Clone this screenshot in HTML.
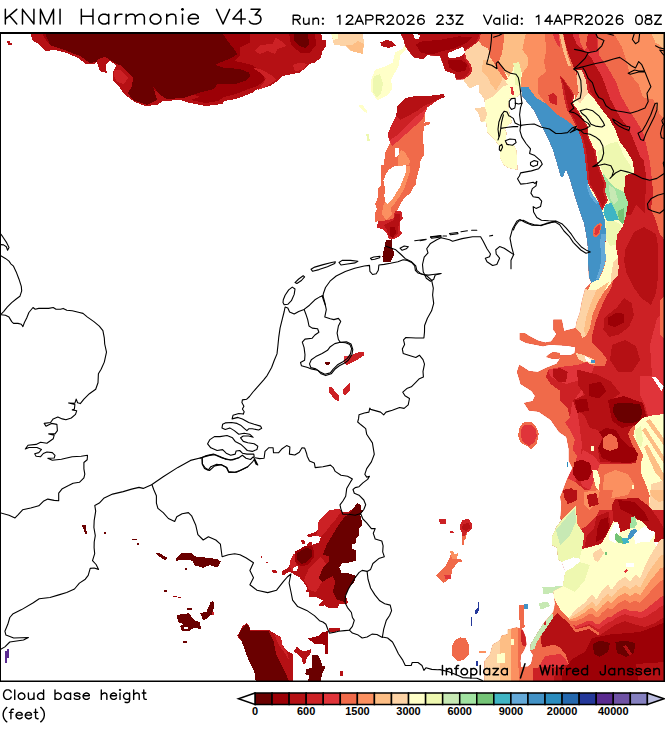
<!DOCTYPE html>
<html><head><meta charset="utf-8"><title>KNMI Harmonie V43 - Cloud base height</title>
<style>
html,body{margin:0;padding:0;background:#fff;}
svg{display:block;font-family:"Liberation Sans",sans-serif;}
.t1{font-size:21.5px;fill:#000;}
.t2{font-size:15.2px;fill:#000;}
.t3{font-size:15px;fill:#000;}
.cb{font-size:10px;font-weight:bold;fill:#000;}
.c{fill:none;stroke:#000;stroke-width:1.1;stroke-linejoin:round;stroke-linecap:round;}
</style></head><body>
<svg width="665" height="735" viewBox="0 0 665 735">
<rect x="0" y="0" width="665" height="735" fill="#fff"/>
<defs><clipPath id="mc"><rect x="1" y="33" width="664" height="648"/></clipPath></defs>
<g clip-path="url(#mc)" shape-rendering="crispEdges">
<polygon fill="#b51014" points="30.0,33.0 33.0,41.0 39.0,44.0 45.0,51.0 55.0,50.0 67.0,53.0 78.0,58.0 86.0,64.0 95.0,64.0 98.0,60.0 105.0,57.0 112.0,62.0 116.0,66.0 113.0,72.0 113.0,80.0 120.0,88.0 125.0,95.0 135.0,102.0 145.0,106.0 157.0,105.0 163.0,101.0 180.0,100.0 190.0,103.0 206.0,106.0 222.5,104.0 224.0,101.0 236.0,99.0 244.0,96.0 252.5,92.5 255.0,90.0 270.0,86.0 277.5,81.0 282.5,76.0 300.0,72.5 306.0,67.5 309.0,64.0 315.0,62.5 321.0,57.5 322.5,51.0 326.0,46.0 326.0,40.0 322.5,39.5 321.0,33.0"/>
<polygon fill="#b51014" points="36.0,33.0 38.0,40.0 44.0,43.0 50.0,48.0 60.0,49.0 70.0,52.0 80.0,57.0 90.0,63.0 98.0,59.0 106.0,58.0 113.0,63.0 118.0,68.0 116.0,76.0 122.0,88.0 128.0,95.0 137.0,101.0 146.0,105.0 156.0,103.0 162.0,100.0 180.0,99.0 192.0,102.0 206.0,104.5 221.0,102.5 223.0,99.5 235.0,97.5 243.0,94.5 251.0,91.0 254.0,88.5 269.0,84.5 276.0,79.5 281.0,74.5 292.0,72.0 299.0,70.5 304.0,66.0 308.0,62.5 314.0,61.0 319.5,56.5 321.0,50.0 324.5,45.0 324.0,41.0 321.0,40.0 319.0,33.0"/>
<polygon fill="#9c0006" points="42.0,33.0 47.0,42.0 52.0,46.0 66.0,50.0 79.0,55.0 90.0,62.0 99.0,60.0 107.0,57.0 116.0,62.0 124.0,66.0 134.0,76.0 133.0,86.0 129.0,92.0 134.0,99.0 147.0,104.0 156.0,100.0 152.0,88.0 160.0,94.0 167.0,98.0 183.0,97.0 193.0,94.0 200.0,97.0 190.0,100.0 206.0,103.0 218.0,101.0 224.0,97.0 236.0,94.0 246.0,90.0 257.5,86.0 265.0,80.0 262.5,72.5 252.5,65.0 235.0,61.0 240.0,55.0 240.0,47.5 250.0,42.5 250.0,33.0"/>
<polygon fill="#6a0000" points="45.0,33.0 50.0,45.0 67.0,51.0 80.0,56.0 90.0,63.0 100.0,61.0 107.0,58.0 115.0,63.0 122.0,66.0 133.0,78.0 132.0,86.0 128.0,93.0 133.0,100.0 147.0,105.0 157.0,100.0 153.0,86.0 160.0,95.0 167.0,99.0 183.0,98.0 193.0,95.0 200.0,92.5 214.0,89.0 217.5,84.0 235.0,84.0 245.0,81.0 250.0,76.0 249.0,72.5 240.0,69.0 222.5,67.5 215.0,65.0 220.0,62.5 232.5,57.5 237.5,54.0 234.0,49.0 227.5,41.0 222.5,33.0"/>
<polygon fill="#b51014" points="113.0,63.0 122.0,66.0 133.0,78.0 131.0,86.0 126.0,92.0 120.0,88.0 113.0,80.0 113.0,72.0 116.0,66.0"/>
<polygon fill="#cc2125" points="114.0,70.0 120.0,70.0 128.0,78.0 124.0,84.0 117.0,82.0 114.0,76.0"/>
<polygon fill="#cc2125" points="255.0,51.0 260.0,45.0 272.5,44.0 276.0,37.5 281.0,41.0 286.0,46.0 277.5,49.0 275.0,54.0 267.5,51.0 260.0,54.0"/>
<polygon fill="#cc2125" points="252.5,67.5 262.5,70.0 272.5,76.0 276.0,80.0 270.0,84.0 265.0,87.5 258.0,90.0 264.0,82.0 266.0,78.0 259.0,72.0"/>
<polygon fill="#cc2125" points="292.5,65.0 300.0,62.5 307.5,64.0 302.5,70.0 295.0,71.0"/>
<polygon fill="#9c0006" points="289.0,33.0 315.0,33.0 316.0,45.0 310.0,52.5 300.0,52.5 291.0,45.0"/>
<polygon fill="#6a0000" points="294.0,33.0 307.5,33.0 309.5,44.0 305.0,48.0 299.0,46.0 294.0,40.0"/>
<polygon fill="#b51014" points="7.0,41.0 10.0,41.0 10.0,43.0 12.0,43.0 12.0,45.0 8.0,45.0 8.0,43.0 7.0,43.0"/>
<polygon fill="#fdd3a5" points="331.0,33.0 334.0,45.0 345.0,46.0 351.0,51.0 362.5,54.0 364.0,45.0 363.0,33.0"/>
<polygon fill="#fdbe85" points="345.0,45.0 351.0,51.0 362.5,54.0 364.0,44.0 357.5,41.0 352.5,45.0"/>
<polygon fill="#ffffc8" points="331.0,33.0 338.0,33.0 337.5,39.0 333.0,40.0"/>
<polygon fill="#b51014" points="380.5,42.5 386.0,40.0 391.0,41.0 396.0,45.5 389.0,48.0 381.0,46.0"/>
<polygon fill="#ffffc8" points="406.0,42.5 402.5,49.0 395.0,52.5 392.5,62.5 386.0,66.0 375.0,70.0 371.0,80.0 371.0,91.0 377.5,100.5 387.5,95.0 392.5,89.0 391.0,80.0 395.0,72.5 399.0,65.0 400.0,55.0 406.0,49.0"/>
<polygon fill="#eef8b0" points="374.0,76.0 380.0,74.0 383.0,84.0 381.0,93.0 377.0,98.0 372.5,91.0 372.5,81.0"/>
<polygon fill="#ffffc8" points="359.0,104.5 362.0,104.5 367.0,111.0 367.0,113.0 364.0,112.0 359.0,107.0"/>
<polygon fill="#eef8b0" points="366.0,134.0 368.5,134.0 370.0,141.0 367.5,141.0"/>
<polygon fill="#f06a4a" points="444.0,94.0 445.0,97.0 437.5,100.0 432.5,104.0 427.5,107.5 425.0,112.5 424.5,122.5 430.0,122.0 430.0,124.0 424.0,126.0 422.5,140.0 424.5,147.5 424.0,150.0 423.6,155.4 420.4,160.8 419.5,168.0 416.8,177.0 415.9,184.3 412.3,188.8 410.5,193.3 404.2,197.8 400.5,204.0 397.0,210.5 401.4,211.4 402.9,218.6 399.6,221.3 399.6,229.4 402.3,233.0 398.7,236.6 393.3,239.3 388.8,238.4 387.0,233.0 382.5,229.4 377.0,227.6 378.0,221.3 375.3,222.2 375.3,212.3 377.0,209.6 375.3,204.0 378.0,197.0 378.0,188.8 380.5,186.0 380.7,173.5 380.7,164.4 384.0,165.0 385.0,152.5 390.0,142.5 387.5,135.0 391.0,126.0 396.0,116.0 397.5,106.0 405.0,98.0 417.5,95.5 427.5,96.0"/>
<polygon fill="#fff" points="395.0,147.5 399.0,147.5 399.0,155.0 395.0,157.5"/>
<polygon fill="#fb9060" points="398.0,157.0 401.0,150.0 405.0,152.0 410.0,161.0 409.0,165.0 406.0,165.3 398.0,166.0"/>
<polygon fill="#fb9060" points="400.0,166.0 409.5,166.0 409.5,173.0 407.0,181.0 404.0,189.0 400.0,196.0 395.0,203.0 391.0,208.0 392.0,215.0 386.0,220.0 382.0,214.0 383.0,206.0 386.0,200.0 392.0,190.0 398.0,178.0"/>
<polygon fill="#fff" points="388.8,169.9 394.2,166.2 406.0,165.3 406.0,171.7 403.2,178.9 400.5,186.0 396.0,193.3 392.4,198.7 388.0,204.0 385.2,202.3 384.3,195.0 385.2,188.8 383.4,180.7 386.0,173.5"/>
<polygon fill="#e0343a" points="397.5,106.0 405.0,98.0 417.5,95.5 427.5,96.0 444.0,94.0 445.0,97.0 437.5,100.0 432.5,104.0 427.5,107.5 425.0,112.5 423.0,118.0 415.0,126.0 406.0,134.0 397.0,142.0 392.0,146.0 390.0,142.5 387.5,135.0 391.0,126.0 396.0,116.0"/>
<polygon fill="#cc2125" points="397.5,106.0 405.0,98.0 417.5,95.5 427.5,96.0 444.0,94.0 445.0,97.0 437.5,100.0 432.5,104.0 427.0,107.0 421.0,113.0 412.0,120.0 404.0,128.0 396.0,136.0 390.0,140.0 387.5,135.0 391.0,126.0 396.0,116.0"/>
<polygon fill="#b51014" points="397.5,106.0 405.0,98.0 417.5,95.5 427.5,96.0 444.0,94.0 445.0,97.0 437.5,100.0 431.0,103.0 424.0,106.0 417.0,111.0 408.0,116.0 400.0,120.0 396.0,116.0"/>
<polygon fill="#cc2125" points="395.0,211.4 401.4,211.4 402.9,218.6 399.6,221.3 399.6,229.4 402.3,233.0 398.7,236.6 393.3,239.3 388.8,238.4 387.0,233.0 382.5,229.4 377.0,227.6 378.0,221.3 386.0,220.4 393.3,218.6"/>
<polygon fill="#b51014" points="395.0,214.0 400.0,214.0 400.0,220.0 398.0,228.0 398.0,234.0 393.0,238.0 389.0,236.0 387.0,230.0 384.0,225.0 390.0,222.0 394.0,220.0"/>
<polygon fill="#9c0006" points="389.5,227.0 395.0,227.0 396.0,233.0 393.0,238.0 390.0,236.0"/>
<polygon fill="#6a0000" points="386.0,240.3 392.4,239.3 392.4,247.5 394.2,253.8 392.4,258.3 390.6,262.0 382.5,262.0 382.5,256.5 384.3,247.5"/>
<polygon fill="#b51014" points="357.0,503.3 361.0,504.7 361.0,509.6 363.8,509.6 360.3,515.4 362.3,522.3 361.9,526.2 359.0,528.0 359.0,535.0 356.0,538.0 356.0,542.8 352.0,544.7 352.0,548.7 356.0,550.6 356.4,560.4 351.0,562.3 342.3,563.3 339.4,567.2 341.4,573.0 348.2,573.0 356.0,576.0 354.0,582.9 349.2,587.7 345.3,595.6 348.2,602.4 345.3,604.4 339.4,604.4 337.4,608.3 328.7,608.3 324.7,605.3 319.9,606.3 318.9,604.4 322.8,600.5 316.9,597.5 309.0,596.5 309.0,592.6 306.2,591.7 307.0,587.7 303.2,581.9 299.3,577.0 293.5,574.0 289.6,571.7 286.6,573.0 282.7,576.0 281.7,571.0 286.6,569.0 289.6,565.3 289.6,561.4 293.5,554.5 298.3,551.6 304.2,549.6 307.0,544.7 309.0,541.8 312.0,541.8 312.0,544.7 318.9,542.8 320.8,536.9 316.0,536.0 308.0,536.9 307.0,535.0 315.0,532.0 317.9,530.0 317.9,522.3 322.8,516.4 328.7,510.5 338.4,508.6 343.3,512.5 349.2,511.5 354.0,507.6"/>
<polygon fill="#cc2125" points="317.9,530.0 317.9,522.3 322.8,516.4 328.7,510.5 338.4,508.6 341.0,512.0 336.0,519.0 330.0,526.0 324.0,534.0 320.8,536.9 316.0,536.0"/>
<polygon fill="#cc2125" points="309.0,568.0 320.8,556.5 328.7,568.0 322.0,582.0 316.0,592.0 309.0,590.0 307.0,585.0 304.0,580.0"/>
<polygon fill="#cc2125" points="289.6,565.3 289.6,561.4 293.5,554.5 298.3,551.6 297.0,560.0 296.0,566.0 292.0,572.0"/>
<polygon fill="#6a0000" points="348.2,514.4 360.3,515.4 362.3,522.3 361.9,526.2 359.0,528.0 359.0,535.0 356.0,538.0 356.0,542.8 352.0,544.7 352.0,548.7 356.0,550.6 356.4,560.4 351.0,562.3 342.3,563.3 339.4,567.2 341.4,573.0 348.2,573.0 356.0,576.0 354.0,582.9 349.2,587.7 345.3,595.6 345.3,602.4 336.5,599.5 332.6,591.7 335.5,581.9 332.6,576.0 328.7,578.0 322.8,581.9 318.9,578.0 322.8,568.2 328.7,562.3 328.7,556.5 322.8,554.5 326.7,544.7 332.6,535.0 338.4,525.2 344.3,517.4"/>
<polygon fill="#6a0000" points="354.0,507.6 357.0,503.3 361.0,504.7 361.0,509.6 363.8,509.6 360.3,515.4 348.2,514.4"/>
<polygon fill="#9c0006" points="294.5,552.0 305.0,546.0 312.0,546.2 314.5,552.0 313.5,558.0 308.0,564.5 301.0,566.5 295.0,562.0"/>
<polygon fill="#6a0000" points="297.0,553.0 306.0,548.0 311.0,549.0 312.5,553.0 311.5,557.0 306.5,562.3 301.0,564.0 297.0,560.0"/>
<polygon fill="#fff" points="293.5,568.2 297.4,565.3 298.3,568.2 296.4,571.0 293.0,571.0"/>
<polygon fill="#b51014" points="300.3,539.9 304.2,539.9 305.2,543.8 302.2,543.8"/>
<polygon fill="#b51014" points="272.0,569.8 274.0,569.8 276.8,571.0 276.8,572.0 272.0,571.5"/>
<polygon fill="#b51014" points="260.6,556.3 262.4,556.3 262.4,558.0 260.6,558.0"/>
<polygon fill="#b51014" points="266.0,561.6 267.7,561.6 267.7,563.4 266.0,563.4"/>
<polygon fill="#b51014" points="273.0,570.5 276.6,570.5 276.6,573.4 273.0,573.4"/>
<polygon fill="#b51014" points="246.6,623.2 249.2,625.8 250.4,629.6 268.3,629.6 274.7,633.5 281.0,637.3 282.4,645.0 287.5,651.3 292.6,653.9 293.4,681.0 255.6,681.0 254.3,671.8 249.2,661.6 245.3,651.3 241.5,641.0 237.2,636.0 241.5,628.3 242.8,625.8"/>
<polygon fill="#cc2125" points="274.0,634.0 281.0,637.3 282.4,645.0 287.0,651.3 289.0,660.0 284.0,652.0 279.0,645.0"/>
<polygon fill="#6a0000" points="246.6,624.2 249.2,626.8 250.4,630.6 268.3,631.0 273.5,641.0 276.0,654.0 281.0,664.0 285.0,671.8 288.8,681.0 255.6,681.0 254.3,671.8 249.2,661.6 245.3,651.3 241.5,641.0 238.2,636.0 241.5,629.3 243.8,626.8"/>
<polygon fill="#9c0006" points="308.0,638.6 318.2,636.0 322.0,632.2 328.4,631.0 328.4,653.9 325.0,653.9 325.0,645.0 319.5,643.7 314.4,643.7"/>
<polygon fill="#b51014" points="328.4,627.8 340.0,627.8 340.0,631.0 329.5,632.2"/>
<polygon fill="#b51014" points="297.0,646.2 300.3,650.0 304.1,651.3 309.2,650.0 311.3,648.8 311.3,652.6 306.7,657.7 305.4,664.0 302.9,664.0 301.6,657.7 297.0,653.9 293.9,651.3"/>
<polygon fill="#6a0000" points="311.8,655.2 318.2,655.2 320.7,660.3 322.0,665.4 325.9,666.7 322.0,674.4 320.7,681.0 308.0,681.0 309.2,675.6 305.4,674.4 305.9,669.2 311.8,668.0"/>
<polygon fill="#b51014" points="340.0,671.3 342.5,671.3 342.5,675.6 340.5,675.6"/>
<polygon fill="#6a0000" points="82.0,525.0 85.5,525.0 87.3,535.0 84.8,533.2"/>
<polygon fill="#6a0000" points="104.4,532.0 105.8,532.0 105.8,533.5 104.4,533.5"/>
<polygon fill="#6a0000" points="131.9,538.5 137.2,538.5 137.2,540.3 131.9,540.3"/>
<polygon fill="#6a0000" points="137.2,542.7 139.0,542.7 139.0,545.0 137.2,545.0"/>
<polygon fill="#6a0000" points="155.0,552.7 158.6,552.7 167.5,558.0 165.7,560.6 158.6,556.3"/>
<polygon fill="#6a0000" points="176.4,558.0 181.8,552.7 192.4,553.4 194.2,556.3 217.4,559.0 221.0,561.6 217.4,567.7 210.3,565.2 203.0,567.7 194.2,565.2 192.4,560.6 185.3,559.9 176.4,560.6"/>
<polygon fill="#6a0000" points="184.6,567.7 187.0,567.7 187.0,569.8 184.6,569.8"/>
<polygon fill="#6a0000" points="164.0,590.0 166.8,590.0 166.8,592.0 164.0,592.0"/>
<polygon fill="#9c0006" points="172.8,595.5 181.8,597.6 181.8,598.4 172.8,596.5"/>
<polygon fill="#6a0000" points="187.0,608.0 192.4,608.0 192.4,609.7 187.0,609.7"/>
<polygon fill="#6a0000" points="176.4,615.0 188.9,613.3 194.2,620.4 199.6,622.2 201.4,629.4 194.2,627.6 188.9,631.0 181.8,631.0 180.0,625.8 183.5,624.0 178.2,622.2"/>
<polygon fill="#fff" points="184.0,627.0 188.0,627.0 188.0,629.0 184.0,629.0"/>
<polygon fill="#6a0000" points="200.3,613.3 206.7,611.5 210.3,602.6 213.0,600.8 214.0,604.0 213.0,613.3 206.7,618.7 203.0,620.4"/>
<polygon fill="#cc2125" points="212.0,612.0 213.5,612.0 213.5,615.0 212.0,615.0"/>
<polygon fill="#6a0000" points="182.8,640.8 187.0,640.8 187.0,643.0 182.8,643.0"/>
<polygon fill="#5a2a90" points="5.3,650.8 7.0,650.8 7.0,649.2 8.6,649.2 8.6,657.6 7.0,657.6 7.0,662.5 5.3,662.5"/>
<polygon fill="#cc2125" points="343.6,356.5 352.0,354.9 358.6,352.2 363.6,352.2 363.6,355.5 357.0,359.9 350.3,363.2 346.9,365.6 343.6,361.6"/>
<polygon fill="#e0343a" points="343.6,356.5 349.0,355.5 349.0,359.0 346.0,362.0 343.6,361.6"/>
<polygon fill="#6a0000" points="325.2,361.6 330.2,361.6 330.2,363.3 327.7,365.6 325.2,364.3"/>
<polygon fill="#cc2125" points="328.5,386.6 330.9,386.6 338.6,395.0 338.6,401.0 335.2,400.0 328.5,391.6"/>
<polygon fill="#cc2125" points="343.6,388.3 349.6,383.3 350.3,390.0 345.2,395.0 342.9,394.3"/>
<polygon fill="#cc2125" points="439.0,519.5 446.2,519.0 446.2,524.4 440.0,524.4"/>
<polygon fill="#cc2125" points="449.8,531.6 453.0,531.0 455.2,533.4 449.8,533.4"/>
<polygon fill="#f06a4a" points="461.9,532.5 467.0,532.5 466.0,538.0 464.2,540.6 463.3,546.0 461.9,545.0"/>
<polygon fill="#cc2125" points="462.4,519.9 468.7,519.0 472.3,524.4 471.4,529.8 467.0,532.5 464.5,536.0 461.9,536.0 461.9,532.5 459.7,528.9 460.6,523.5"/>
<polygon fill="#b51014" points="463.0,524.0 469.0,523.0 470.5,528.0 466.0,531.0 462.0,529.0"/>
<polygon fill="#f06a4a" points="449.8,551.4 453.4,551.4 454.3,554.0 457.9,553.2 457.0,558.7 461.5,559.6 461.5,562.3 457.9,562.3 455.2,565.9 452.5,569.5 450.7,577.6 445.3,582.0 443.5,582.7 439.9,579.4 436.2,575.8 439.0,572.2 445.3,566.8 448.9,559.6 450.7,554.0"/>
<polygon fill="#fb9060" points="449.8,551.4 453.4,551.4 454.3,554.0 457.9,553.2 457.0,558.7 452.0,559.0 450.7,554.0"/>
<polygon fill="#e0343a" points="444.4,575.0 450.7,575.0 450.7,579.4 445.3,579.4"/>
<polygon fill="#24389a" points="474.5,610.0 477.5,608.5 478.3,601.8 479.3,601.8 479.0,610.0 476.8,613.8 474.5,614.5"/>
<polygon fill="#24389a" points="471.0,617.0 472.0,617.0 472.0,626.0 471.0,626.0"/>
<polygon fill="#f06a4a" points="519.3,605.5 523.8,604.7 524.6,627.0 519.5,629.5 519.5,620.0"/>
<polygon fill="#4292c6" points="523.5,604.0 528.0,604.0 528.0,608.6 524.5,608.6"/>
<polygon fill="#f06a4a" points="460.3,637.4 466.0,638.5 468.8,645.0 468.8,655.0 464.0,660.0 457.0,661.0 452.5,656.0 451.8,646.0 455.0,640.0"/>
<polygon fill="#fb9060" points="479.0,651.0 485.7,651.0 485.7,652.6 479.0,652.6"/>
<polygon fill="#2a8cbe" points="566.8,462.0 568.0,462.0 568.0,467.0 566.8,467.0"/>
<polygon fill="#f06a4a" points="523.0,422.6 531.0,422.0 536.0,426.0 538.7,434.0 537.0,443.0 533.0,447.0 531.0,450.0 527.0,446.0 521.0,443.0 518.0,436.0 519.5,428.0"/>
<polygon fill="#e0343a" points="524.0,425.0 531.0,424.5 535.5,429.0 537.0,436.0 534.0,443.0 529.0,446.0 523.0,442.0 520.5,436.0 521.5,429.0"/>
<polygon fill="#c7e9b4" points="539.0,603.0 548.0,601.5 549.7,606.0 544.0,608.5 540.0,609.0"/>
<polygon fill="#c7e9b4" points="542.3,587.4 562.7,586.0 564.0,591.0 549.5,593.5 543.5,593.5"/>
<polygon fill="#3fb5c4" points="512.0,630.6 514.4,630.6 514.4,633.3 512.0,633.3"/>
<polygon fill="#24389a" points="476.0,661.0 477.5,661.0 477.5,665.7 476.0,665.7"/>
<polygon fill="#b51014" points="96.7,61.0 100.0,71.3 106.7,73.0 106.0,64.0 110.0,60.0 105.0,57.0 98.0,59.0"/>
<defs><clipPath id="rb"><polygon points="400.0,33.0 665.0,33.0 665.0,681.0 484.3,681.0 484.3,661.0 489.5,655.0 492.6,644.6 500.0,640.0 501.6,635.6 507.6,634.0 507.6,629.6 516.6,627.3 522.6,629.6 525.6,637.0 526.4,644.6 524.0,650.6 521.0,655.0 520.4,661.0 521.0,667.0 528.0,666.5 531.0,664.0 533.0,655.0 530.0,650.0 530.5,644.0 534.0,638.0 539.0,630.0 543.0,624.0 548.0,618.0 553.3,612.0 555.0,603.5 553.0,591.0 562.7,586.0 565.0,571.8 561.5,562.0 558.0,559.8 556.7,547.7 552.0,545.3 552.0,535.7 556.7,526.0 561.5,520.0 560.3,519.0 561.5,504.4 560.3,497.0 564.0,487.5 567.6,478.0 572.4,468.0 568.8,461.0 568.8,449.0 566.4,437.0 559.0,432.0 550.7,420.0 538.7,411.7 529.0,410.5 524.0,403.0 532.7,401.0 535.0,396.0 531.5,391.0 520.6,384.0 517.0,372.0 519.4,364.8 529.0,371.0 537.6,372.0 546.0,368.0 556.6,363.7 560.0,358.4 553.0,359.0 546.0,357.0 548.0,355.0 553.0,352.0 560.0,353.0 560.0,355.3 570.3,355.3 574.5,353.0 575.5,347.3 567.0,345.8 550.0,344.7 543.0,346.3 526.3,343.0 519.7,339.7 519.7,333.0 524.7,333.0 529.7,336.3 537.6,340.5 545.0,342.6 551.0,341.6 556.6,334.0 553.4,330.0 553.4,319.5 561.8,319.5 564.0,331.0 575.5,328.0 576.6,321.6 579.7,313.0 582.0,300.5 585.0,289.0 591.3,282.6 589.0,277.4 588.0,263.7 588.0,251.0 587.0,240.5 584.0,223.7 578.7,209.0 573.4,192.0 569.0,177.0 566.0,170.0 563.0,177.0 560.8,177.4 556.6,162.6 552.8,150.0 548.3,139.4 544.7,132.2 539.3,121.4 533.9,110.5 528.4,104.0 522.0,96.0 521.2,89.8 519.4,95.2 515.8,98.0 509.5,98.8 508.6,105.0 509.5,112.3 512.2,122.3 508.6,125.0 505.0,129.5 506.8,132.2 505.9,141.2 508.6,144.8 514.0,144.8 516.7,150.0 517.6,166.5 517.6,170.0 508.6,168.3 503.2,164.7 499.6,157.5 499.6,146.6 494.0,139.4 487.0,132.2 486.0,122.3 480.6,121.4 478.8,114.0 474.3,108.7 478.8,107.8 485.0,107.0 484.2,98.8 478.8,91.6 478.8,85.0 476.0,85.3 469.8,88.9 464.4,81.7 463.0,79.5 455.8,79.5 454.7,74.2 445.0,71.0 443.0,64.7 440.0,56.3 427.4,55.3 423.0,59.5 413.7,57.4 408.4,51.0 405.0,45.8 403.0,38.4"/></clipPath></defs>
<g clip-path="url(#rb)">
<polygon fill="#cc2125" points="400.0,33.0 665.0,33.0 665.0,681.0 484.3,681.0 484.3,661.0 489.5,655.0 492.6,644.6 500.0,640.0 501.6,635.6 507.6,634.0 507.6,629.6 516.6,627.3 522.6,629.6 525.6,637.0 526.4,644.6 524.0,650.6 521.0,655.0 520.4,661.0 521.0,667.0 528.0,666.5 531.0,664.0 533.0,655.0 530.0,650.0 530.5,644.0 534.0,638.0 539.0,630.0 543.0,624.0 548.0,618.0 553.3,612.0 555.0,603.5 553.0,591.0 562.7,586.0 565.0,571.8 561.5,562.0 558.0,559.8 556.7,547.7 552.0,545.3 552.0,535.7 556.7,526.0 561.5,520.0 560.3,519.0 561.5,504.4 560.3,497.0 564.0,487.5 567.6,478.0 572.4,468.0 568.8,461.0 568.8,449.0 566.4,437.0 559.0,432.0 550.7,420.0 538.7,411.7 529.0,410.5 524.0,403.0 532.7,401.0 535.0,396.0 531.5,391.0 520.6,384.0 517.0,372.0 519.4,364.8 529.0,371.0 537.6,372.0 546.0,368.0 556.6,363.7 560.0,358.4 553.0,359.0 546.0,357.0 548.0,355.0 553.0,352.0 560.0,353.0 560.0,355.3 570.3,355.3 574.5,353.0 575.5,347.3 567.0,345.8 550.0,344.7 543.0,346.3 526.3,343.0 519.7,339.7 519.7,333.0 524.7,333.0 529.7,336.3 537.6,340.5 545.0,342.6 551.0,341.6 556.6,334.0 553.4,330.0 553.4,319.5 561.8,319.5 564.0,331.0 575.5,328.0 576.6,321.6 579.7,313.0 582.0,300.5 585.0,289.0 591.3,282.6 589.0,277.4 588.0,263.7 588.0,251.0 587.0,240.5 584.0,223.7 578.7,209.0 573.4,192.0 569.0,177.0 566.0,170.0 563.0,177.0 560.8,177.4 556.6,162.6 552.8,150.0 548.3,139.4 544.7,132.2 539.3,121.4 533.9,110.5 528.4,104.0 522.0,96.0 521.2,89.8 519.4,95.2 515.8,98.0 509.5,98.8 508.6,105.0 509.5,112.3 512.2,122.3 508.6,125.0 505.0,129.5 506.8,132.2 505.9,141.2 508.6,144.8 514.0,144.8 516.7,150.0 517.6,166.5 517.6,170.0 508.6,168.3 503.2,164.7 499.6,157.5 499.6,146.6 494.0,139.4 487.0,132.2 486.0,122.3 480.6,121.4 478.8,114.0 474.3,108.7 478.8,107.8 485.0,107.0 484.2,98.8 478.8,91.6 478.8,85.0 476.0,85.3 469.8,88.9 464.4,81.7 463.0,79.5 455.8,79.5 454.7,74.2 445.0,71.0 443.0,64.7 440.0,56.3 427.4,55.3 423.0,59.5 413.7,57.4 408.4,51.0 405.0,45.8 403.0,38.4"/>
<polygon fill="#f06a4a" points="500.0,240.0 617.6,250.0 615.5,271.0 611.3,288.0 605.0,298.4 599.7,311.0 595.5,321.6 592.4,334.0 592.4,342.6 600.8,351.0 607.0,359.5 605.0,366.0 594.0,366.0 586.8,362.0 577.0,365.0 560.3,367.0 548.3,369.6 546.0,377.0 550.7,384.0 560.3,391.0 560.3,401.0 567.6,408.0 570.0,417.7 565.0,422.6 570.0,430.0 574.8,439.4 572.4,449.0 577.0,456.0 574.8,466.0 570.0,473.0 565.0,485.0 562.7,494.7 562.7,510.0 577.0,504.0 577.0,514.0 560.0,520.0 500.0,520.0"/>
<polygon fill="#b51014" points="400.0,33.0 403.0,38.4 405.0,45.8 408.4,51.0 413.7,57.4 423.0,59.5 427.4,55.3 440.0,56.3 443.0,64.7 445.0,71.0 454.7,74.2 455.8,79.5 461.0,79.5 467.0,75.3 470.0,70.0 468.0,63.7 464.0,58.4 463.0,51.0 469.0,46.8 475.0,43.7 478.0,38.4 480.0,33.0"/>
<polygon fill="#9c0006" points="415.8,44.7 421.0,41.6 442.0,39.5 459.0,36.3 471.6,37.4 467.4,42.6 452.6,49.0 442.0,51.0 433.7,54.2 421.0,53.2"/>
<polygon fill="#9c0006" points="447.4,59.5 461.0,59.5 467.4,64.7 465.3,71.0 456.8,72.0 449.5,67.9"/>
<polygon fill="#fff" points="448.4,53.0 454.7,50.0 463.0,46.8 465.0,52.0 461.0,56.3 452.6,58.4 448.4,57.4"/>
<polygon fill="#fff" points="412.6,33.0 420.0,35.0 419.0,39.5 414.7,38.4"/>
<polygon fill="#ffffc8" points="521.2,89.8 519.4,95.2 515.8,98.0 509.5,98.8 508.6,105.0 509.5,112.3 512.2,122.3 508.6,125.0 505.0,129.5 506.8,132.2 505.9,141.2 508.6,144.8 514.0,144.8 516.7,150.0 517.6,166.5 517.6,170.0 508.6,168.3 503.2,164.7 499.6,157.5 499.6,146.6 494.0,139.4 487.0,132.2 486.0,122.3 480.6,121.4 478.8,114.0 474.3,108.7 478.8,107.8 485.0,107.0 484.2,98.8 478.8,91.6 478.8,85.0 476.0,85.3 469.8,88.9 464.4,81.7 463.0,79.5 469.5,75.3 472.6,70.0 470.5,63.7 466.0,58.4 465.0,51.0 471.6,46.8 479.0,40.8 481.0,38.4 484.0,33.0 526.0,33.0 524.2,40.8 522.3,49.9 527.8,57.0 527.8,66.0 522.3,73.3 520.5,82.3"/>
<polygon fill="#fdd3a5" points="463.0,79.5 469.5,75.3 472.6,70.0 470.5,63.7 466.0,58.4 465.0,51.0 471.6,46.8 479.0,40.8 482.6,46.2 488.0,48.0 489.9,57.0 493.5,62.5 499.0,71.5 505.2,80.5 508.0,85.0 503.0,86.0 497.0,92.0 492.0,97.0 486.0,100.0 484.2,98.8 478.8,91.6 478.8,85.0 476.0,85.3 469.8,88.9 464.4,81.7"/>
<polygon fill="#fdd3a5" points="474.3,108.7 478.8,107.8 485.0,107.0 487.0,114.0 485.0,121.0 480.6,121.4 478.8,114.0"/>
<polygon fill="#fdbe85" points="483.3,60.0 499.6,60.0 503.2,70.8 501.4,81.7 496.0,90.7 490.5,83.5 487.0,76.2 481.5,70.8"/>
<polygon fill="#fdbe85" points="504.3,33.0 526.0,33.0 524.2,40.8 522.3,49.9 527.8,57.0 527.8,66.0 522.3,73.3 518.7,66.0 514.2,64.3 512.4,71.5 508.8,77.0 504.3,71.5 499.0,60.7 501.6,55.0 503.4,44.4"/>
<polygon fill="#f06a4a" points="481.0,33.0 504.3,33.0 503.4,44.4 501.6,55.0 499.0,60.7 504.3,71.5 508.0,78.7 505.2,80.5 499.0,71.5 493.5,62.5 489.9,57.0 488.0,48.0 482.6,46.2 479.0,40.8"/>
<polygon fill="#eef8b0" points="513.3,63.4 519.0,62.0 521.0,70.0 520.5,82.3 519.0,86.0 515.5,85.0 514.5,75.0"/>
<polygon fill="#e0343a" points="510.4,87.0 513.0,87.0 514.0,95.2 511.8,95.2"/>
<polygon fill="#fb9060" points="526.0,33.0 563.0,33.0 565.0,42.6 568.0,53.0 572.4,63.7 576.0,70.0 578.0,90.0 580.0,110.0 585.0,140.0 581.8,139.5 577.6,129.0 567.0,120.5 556.6,114.2 546.0,103.7 535.5,97.4 528.4,87.0 521.2,89.8 520.5,82.3 522.3,73.3 527.8,66.0 527.8,57.0 522.3,49.9 524.2,40.8"/>
<polygon fill="#f06a4a" points="545.0,33.0 563.0,33.0 568.0,53.0 572.4,63.7 574.5,70.0 577.0,80.0 579.0,100.0 581.0,118.0 583.0,132.0 577.6,129.0 567.0,120.5 556.6,114.2 546.0,103.7 537.6,93.0 537.6,78.4 546.0,72.0 544.0,61.6 546.0,51.0"/>
<polygon fill="#e0343a" points="552.0,33.0 559.0,33.0 560.0,48.0 557.0,44.0"/>
<polygon fill="#fdbe85" points="559.0,33.0 562.5,33.0 567.0,53.0 571.0,66.0 568.0,66.0 563.0,50.0"/>
<polygon fill="#cc2125" points="548.3,95.2 553.0,93.0 557.3,97.0 557.3,105.0 550.0,103.0"/>
<polygon fill="#f06a4a" points="597.0,33.0 613.4,33.0 621.8,46.8 626.0,59.5 630.0,74.0 638.7,84.7 643.0,97.4 653.4,99.5 659.7,114.0 665.0,120.5 665.0,240.5 659.7,234.0 655.5,219.5 651.0,209.0 653.4,192.0 651.0,177.0 649.0,162.6 643.0,150.0 640.8,135.0 634.5,122.6 626.0,110.0 617.6,95.3 613.4,82.6 605.0,68.0 596.6,55.3"/>
<polygon fill="#fb9060" points="613.4,33.0 665.0,33.0 665.0,120.5 659.7,114.0 653.4,99.5 643.0,97.4 638.7,84.7 630.0,74.0 626.0,59.5 621.8,46.8"/>
<polygon fill="#fdbe85" points="651.0,33.0 665.0,33.0 665.0,51.0 659.7,44.7 655.5,42.6"/>
<polygon fill="#e0343a" points="570.0,33.0 597.0,33.0 599.0,55.3 608.0,68.0 616.4,82.6 620.6,95.3 629.0,110.0 637.5,122.6 644.0,135.0 650.0,162.0 652.0,180.0 640.0,180.0 636.6,156.0 630.0,139.5 624.0,126.8 617.6,118.4 612.4,110.0 607.0,99.5 603.0,89.0 598.7,76.3 592.4,65.8 588.0,57.4 581.8,51.0 574.5,44.7"/>
<polygon fill="#f06a4a" points="579.0,33.0 588.0,33.0 590.0,45.0 584.0,50.0 580.0,42.0"/>
<polygon fill="#cc2125" points="588.0,33.0 597.0,33.0 596.6,50.0 590.0,52.0 586.0,45.0"/>
<polygon fill="#ffffc8" points="577.6,68.0 581.8,70.0 586.0,80.5 588.0,93.0 594.5,99.5 603.0,111.0 609.0,118.4 615.5,130.0 619.7,141.6 626.0,150.0 632.4,160.5 634.5,173.0 625.6,175.0 624.0,192.0 628.0,202.6 626.0,215.0 623.0,225.8 617.6,234.0 615.5,244.7 617.6,255.0 617.6,262.0 615.5,271.0 611.3,283.0 604.0,292.0 596.6,290.0 588.0,290.0 591.3,282.6 598.7,279.5 603.0,271.0 606.0,260.5 605.0,250.0 606.0,234.0 605.0,221.6 603.0,213.0 598.7,202.6 592.4,194.0 588.0,183.7 586.0,166.8 584.0,150.0 581.8,139.5 577.6,129.0 572.4,118.4 567.0,110.0 564.0,97.4 561.8,84.7 559.7,75.3 563.0,78.4 569.2,86.8 574.5,95.3 575.5,99.5 578.7,93.0 576.6,78.4"/>
<polygon fill="#fdd3a5" points="577.6,68.0 576.6,78.4 578.7,93.0 575.5,99.5 579.7,103.7 588.0,93.0 586.0,80.5 581.8,70.0"/>
<polygon fill="#eef8b0" points="609.0,143.7 617.6,141.6 624.0,156.0 630.0,165.0 633.0,173.0 625.6,175.0 624.0,192.0 615.5,188.0 609.0,181.6 603.0,173.0 599.0,162.0 597.0,152.0"/>
<polygon fill="#eef8b0" points="606.0,222.0 613.4,220.5 619.7,223.7 621.8,228.0 617.6,234.0 615.5,244.7 610.0,246.0 606.0,238.0"/>
<polygon fill="#a1e3a1" points="603.0,173.0 609.0,181.6 615.5,188.0 624.0,192.0 628.0,202.6 626.0,215.0 623.0,224.7 617.6,219.5 614.5,209.0 609.0,200.5 606.0,194.0 604.0,188.0"/>
<polygon fill="#c7e9b4" points="609.0,185.0 615.0,189.0 618.0,200.0 614.0,205.0 610.0,198.0"/>
<polygon fill="#74c476" points="617.6,211.0 624.0,208.0 624.5,219.0 623.0,224.7 619.0,221.0"/>
<polygon fill="#3fb5c4" points="605.0,204.7 611.3,202.6 615.5,211.0 618.7,219.5 609.0,221.6 606.0,219.5 603.3,213.0"/>
<polygon fill="#fdd3a5" points="613.4,262.0 618.0,258.0 618.7,268.0 617.6,276.0 611.0,283.0 611.0,276.0"/>
<polygon fill="#cc2125" points="559.7,75.3 561.8,84.7 564.0,97.4 567.0,110.0 572.4,118.4 577.6,129.0 581.8,139.5 584.0,150.0 586.0,166.8 588.0,183.7 594.5,194.0 598.7,202.6 600.8,212.0 601.8,212.0 604.0,206.8 608.0,200.5 605.0,192.0 606.0,183.7 601.8,173.0 597.6,162.6 595.5,150.0 593.4,148.0 588.0,135.0 588.0,126.8 583.0,118.4 577.6,110.0 572.4,102.6 574.5,95.3 569.2,86.8 563.0,78.4"/>
<polygon fill="#b51014" points="561.0,78.0 563.5,84.7 566.0,97.4 569.0,110.0 574.0,118.4 579.0,129.0 583.5,139.5 586.0,150.0 588.0,166.8 590.0,183.7 596.0,194.0 600.0,202.0 602.5,207.0 606.0,200.5 603.0,192.0 604.0,183.7 600.0,173.0 596.0,162.6 594.0,150.0 592.0,148.0 586.5,135.0 586.5,126.8 581.5,118.4 576.0,110.0 571.0,102.6 573.0,95.3 568.0,86.8 563.0,79.4"/>
<polygon fill="#b51014" points="563.0,33.0 565.0,42.6 568.0,53.0 572.4,63.7 574.5,70.0 585.0,70.0 588.0,80.5 590.0,91.0 595.5,99.5 603.0,111.0 609.0,118.4 615.5,130.0 619.7,141.6 626.0,150.0 632.4,160.5 634.5,173.0 625.6,175.0 624.0,192.0 628.0,202.6 626.0,215.0 631.0,215.0 636.0,205.0 645.0,213.0 646.0,175.0 643.5,160.0 640.0,156.0 633.5,139.5 627.5,126.8 621.0,118.4 616.0,110.0 610.5,99.5 606.5,89.0 602.0,76.3 595.5,65.8 591.0,57.4 584.5,51.0 577.0,44.7 572.0,33.0"/>
<polygon fill="#4292c6" points="521.0,87.0 525.0,87.0 528.4,87.0 535.5,97.4 546.0,103.7 556.6,114.2 567.0,120.5 577.6,129.0 581.8,139.5 584.0,150.0 586.0,166.8 588.0,183.7 592.4,194.0 598.7,202.6 603.0,213.0 605.0,221.6 606.0,234.0 605.0,249.0 606.0,259.5 603.0,270.0 598.7,279.5 591.3,282.6 589.0,277.4 588.0,263.7 588.0,251.0 587.0,240.5 584.0,223.7 578.7,209.0 573.4,192.0 569.0,177.0 566.0,170.0 563.0,177.0 560.8,177.4 556.6,162.6 552.8,150.0 548.3,139.4 544.7,132.2 539.3,121.4 533.9,110.5 528.4,104.0 522.0,96.0"/>
<polygon fill="#64a9d8" points="588.0,183.7 592.4,194.0 598.7,202.6 596.0,204.0 590.0,196.0 586.5,186.0"/>
<polygon fill="#64a9d8" points="601.0,234.0 606.0,234.0 605.0,249.0 606.0,259.5 603.0,270.0 598.7,279.5 596.0,279.0 600.0,268.0 601.5,255.0 600.0,245.0"/>
<polygon fill="#f06a4a" points="594.5,226.8 599.7,222.6 601.8,224.7 599.7,234.0 596.6,237.4 592.8,236.3 592.8,231.0"/>
<polygon fill="#e0343a" points="595.5,228.0 599.5,224.5 600.5,226.0 598.7,233.0 596.0,235.5 594.3,234.0"/>
<polygon fill="#fdd3a5" points="585.0,289.0 588.0,290.0 596.6,290.0 604.0,292.0 597.6,302.6 592.4,315.0 590.0,328.0 586.0,336.0 582.0,338.4 580.8,333.0 575.5,328.0 576.6,321.6 579.7,313.0 582.0,300.5"/>
<polygon fill="#fdbe85" points="596.6,290.0 609.0,281.6 604.0,292.0 597.6,302.6 592.4,315.0 590.0,328.0 586.0,336.0 584.0,330.0 586.0,318.0 590.0,305.0"/>
<polygon fill="#fdd3a5" points="575.5,353.0 584.0,355.0 594.5,359.5 595.5,363.7 588.0,363.7 578.7,359.5"/>
<polygon fill="#fff" points="585.0,356.0 591.3,359.5 591.3,362.6 586.0,361.0"/>
<polygon fill="#4292c6" points="591.3,359.5 594.5,359.5 594.5,362.6 591.3,362.6"/>
<polygon fill="#b51014" points="625.4,249.0 634.0,231.8 643.7,227.0 656.0,234.0 658.4,249.0 658.4,273.4 656.0,293.0 651.0,305.0 641.3,298.0 634.0,288.0 626.6,273.4 624.0,261.0"/>
<polygon fill="#b51014" points="604.6,317.4 616.8,307.6 624.0,298.0 631.5,302.8 634.0,315.0 629.0,327.0 619.0,334.6 609.5,337.0 603.3,329.7"/>
<polygon fill="#9c0006" points="608.2,317.4 616.8,312.5 624.0,313.8 624.0,322.3 614.4,327.2 608.2,324.8"/>
<polygon fill="#b51014" points="612.0,345.0 625.0,340.0 636.0,346.0 640.0,360.0 632.0,372.0 618.0,372.0 610.0,360.0"/>
<polygon fill="#e0343a" points="657.0,318.0 665.0,310.0 665.0,376.0 652.0,376.0 650.0,345.0"/>
<polygon fill="#f06a4a" points="660.0,300.0 665.0,295.0 665.0,340.0 660.0,335.0"/>
<polygon fill="#e0343a" points="548.3,369.6 560.3,367.0 577.0,365.0 586.8,362.0 594.0,366.0 590.0,380.0 580.0,392.0 572.0,403.0 570.0,417.7 565.0,422.6 570.0,430.0 574.8,439.4 572.4,449.0 577.0,456.0 574.8,466.0 570.0,473.0 565.0,485.0 562.7,494.7 570.0,492.0 576.0,480.0 580.0,462.0 582.0,445.0 580.0,430.0 578.0,415.0 580.0,400.0 586.0,388.0 580.0,380.0 566.0,384.0 556.0,380.0 550.0,376.0"/>
<polygon fill="#b51014" points="553.0,369.6 560.0,368.0 567.6,372.0 566.0,381.7 558.0,382.0 553.0,377.0"/>
<polygon fill="#b51014" points="573.0,400.0 585.0,395.0 600.0,392.0 613.0,398.0 620.0,404.0 643.0,404.0 647.0,415.0 640.0,425.0 632.0,428.0 640.0,440.0 643.0,456.0 640.0,463.0 620.0,463.0 600.0,462.0 598.0,450.0 603.0,436.0 598.0,430.0 590.0,428.0 584.0,415.0 576.0,410.0"/>
<polygon fill="#b51014" points="577.0,369.6 596.4,374.4 610.9,381.7 620.5,393.7 613.0,398.0 600.0,392.0 585.0,395.0 578.0,385.0"/>
<polygon fill="#9c0006" points="589.0,384.0 601.0,381.7 606.0,391.0 599.0,398.5 589.0,396.0"/>
<polygon fill="#9c0006" points="574.8,400.0 587.0,398.5 589.0,410.5 577.0,413.0"/>
<polygon fill="#9c0006" points="608.0,400.0 624.0,396.0 643.0,403.0 646.0,416.0 638.0,424.0 622.0,428.0 612.0,421.0"/>
<polygon fill="#6a0000" points="613.6,404.5 620.5,402.5 639.7,404.0 642.5,412.0 640.0,420.0 632.0,423.5 624.0,423.0 618.0,421.0 613.3,413.0"/>
<polygon fill="#9c0006" points="599.0,432.0 606.0,428.0 616.0,430.0 622.0,440.0 630.0,447.0 642.0,450.0 643.0,458.0 630.0,463.0 612.0,462.0 602.0,458.0 598.0,448.0 603.0,438.0"/>
<polygon fill="#f06a4a" points="602.8,438.0 610.0,433.5 617.2,438.0 618.0,448.0 610.0,451.0 603.0,448.0"/>
<polygon fill="#f06a4a" points="592.0,468.6 600.0,464.0 620.0,464.0 640.0,463.2 640.7,472.2 646.0,484.8 649.7,495.7 648.0,510.0 580.0,510.0 578.0,500.0 590.0,490.0 594.0,480.0"/>
<polygon fill="#fb9060" points="604.0,475.0 615.0,470.0 628.0,474.0 634.0,484.0 628.0,495.0 612.0,498.0 603.0,490.0"/>
<polygon fill="#e0343a" points="583.0,450.0 594.0,456.0 600.0,464.0 594.0,480.0 590.0,490.0 582.0,486.0 578.0,470.0 580.0,458.0"/>
<polygon fill="#9c0006" points="573.9,462.0 582.0,459.6 590.0,463.0 592.0,472.0 588.0,480.0 578.0,481.2 573.0,474.0"/>
<polygon fill="#f06a4a" points="563.0,476.0 575.0,482.0 585.0,490.0 590.0,500.0 590.0,510.0 560.0,510.0 560.0,495.0"/>
<polygon fill="#b51014" points="563.0,490.0 572.0,488.0 577.5,494.0 574.0,501.0 565.0,500.0"/>
<polygon fill="#b51014" points="617.0,499.0 631.6,499.0 633.0,510.0 615.0,510.0"/>
<polygon fill="#e0343a" points="640.0,376.0 665.0,376.0 665.0,415.0 649.0,420.0 645.0,405.0 640.0,395.0"/>
<polygon fill="#fff" points="651.8,376.8 655.4,376.8 663.8,386.5 661.4,391.0"/>
<polygon fill="#ffffc8" points="642.5,418.0 653.3,415.3 665.0,414.0 665.0,510.0 647.9,510.0 649.7,495.7 646.0,484.8 640.7,472.2 640.7,463.2 643.4,456.0 638.9,447.0 633.4,436.0 635.3,425.3"/>
<polygon fill="#eef8b0" points="635.3,430.0 641.0,426.0 643.0,440.0 641.0,448.0 636.0,442.0"/>
<polygon fill="#fdbe85" points="646.0,421.0 650.0,419.0 665.0,440.0 665.0,447.0"/>
<polygon fill="#fdbe85" points="642.0,430.0 645.0,427.0 665.0,458.0 665.0,465.0"/>
<polygon fill="#fdbe85" points="644.0,447.0 647.0,444.0 665.0,476.0 665.0,484.0 655.0,472.0"/>
<polygon fill="#fdd3a5" points="651.5,484.0 665.0,480.0 665.0,510.0 649.0,510.0 650.0,496.0"/>
<polygon fill="#f06a4a" points="631.0,428.0 635.3,425.3 633.4,436.0 638.9,447.0 643.4,456.0 640.7,463.2 640.7,472.2 646.0,484.8 649.7,495.7 648.0,510.0 643.0,510.0 643.0,492.0 636.0,476.0 636.0,462.0 638.0,454.0 632.0,444.0 628.0,434.0"/>
<polygon fill="#ffffc8" points="591.0,446.0 593.7,446.0 593.7,450.5 591.0,450.5"/>
<polygon fill="#ffffc8" points="592.3,469.5 597.0,470.0 600.0,478.0 599.0,490.0 596.0,488.0 593.5,478.0"/>
<polygon fill="#eef8b0" points="598.0,496.6 603.0,496.6 603.0,504.7 598.0,504.7"/>
<polygon fill="#ffffc8" points="631.6,484.8 634.4,484.8 634.4,489.4 631.6,489.4"/>
<polygon fill="#f06a4a" points="577.0,490.0 613.0,490.0 611.0,500.0 601.2,507.0 596.4,516.5 586.8,526.0 579.6,529.7 576.0,523.7 577.0,514.0"/>
<polygon fill="#fb9060" points="584.0,492.0 600.0,490.0 598.0,500.0 590.0,510.0 584.0,505.0"/>
<polygon fill="#b51014" points="562.7,490.0 577.0,490.0 577.0,500.0 567.6,504.4"/>
<polygon fill="#b51014" points="586.8,495.0 596.4,493.0 598.8,504.4 589.2,507.0"/>
<polygon fill="#b51014" points="596.4,516.5 608.5,511.7 610.9,526.0 606.0,535.7 601.2,544.0 584.4,547.7 586.8,535.7 594.0,528.5"/>
<polygon fill="#9c0006" points="600.0,520.0 608.0,517.0 609.0,528.0 604.0,538.0 596.0,542.0 597.0,530.0"/>
<polygon fill="#9c0006" points="618.0,500.0 635.0,502.0 644.6,511.7 649.4,521.3 642.0,521.3 630.0,514.0 620.5,509.2"/>
<polygon fill="#b51014" points="615.0,499.0 638.0,498.0 650.0,507.0 659.0,520.0 665.0,530.0 665.0,555.0 654.2,541.7 655.4,532.0 649.4,529.7 642.0,521.3 635.0,519.0 630.0,528.5 620.5,532.0 618.0,522.5 613.3,521.3 612.0,505.0"/>
<polygon fill="#9c0006" points="618.0,500.0 635.0,502.0 644.6,511.7 649.4,521.3 642.0,521.3 630.0,514.0 620.5,509.2"/>
<polygon fill="#fdbe85" points="649.4,490.0 665.0,490.0 665.0,500.0 659.0,502.0 652.0,497.0"/>
<polygon fill="#eef8b0" points="552.0,535.7 556.7,526.0 561.5,520.0 570.0,511.7 576.0,505.6 577.0,523.7 584.4,534.5 582.0,549.0 579.6,558.6 573.6,557.4 561.5,562.0 558.0,559.8 556.7,547.7 552.0,545.3"/>
<polygon fill="#c7e9b4" points="556.0,530.0 566.0,518.0 575.0,508.0 576.0,522.0 570.0,535.0 560.0,545.0"/>
<polygon fill="#ffffc8" points="582.0,549.0 601.2,544.0 606.0,535.7 613.3,521.3 618.0,522.5 620.5,532.0 630.0,528.5 635.0,519.0 642.0,521.3 649.4,529.7 655.4,532.0 654.2,541.7 665.0,555.0 665.0,640.0 540.0,640.0 553.0,591.0 562.7,586.0 565.0,571.8 579.6,562.0 579.6,558.6"/>
<polygon fill="#eef8b0" points="565.0,571.8 579.6,562.0 590.0,565.0 585.0,580.0 575.0,592.0 562.7,586.0"/>
<polygon fill="#fff" points="561.5,562.0 573.6,557.4 579.6,558.6 579.6,562.0 572.0,568.0 565.0,571.8"/>
<polygon fill="#fff" points="608.5,534.5 614.5,522.5 618.0,522.5 620.5,532.0 616.2,538.0 615.7,543.0 609.7,540.5"/>
<polygon fill="#fff" points="633.7,534.5 639.7,529.7 644.6,526.0 649.4,529.7 655.4,532.0 653.0,537.0 649.4,541.7 642.0,541.7 635.0,544.0"/>
<polygon fill="#fff" points="654.0,541.7 665.0,541.7 665.0,555.0 659.0,552.5"/>
<polygon fill="#74c476" points="615.7,532.0 620.0,536.0 625.3,540.0 625.3,544.0 618.0,543.0 615.0,539.0"/>
<polygon fill="#a1e3a1" points="631.0,517.7 635.0,516.0 637.0,524.0 634.0,528.5 630.0,528.0"/>
<polygon fill="#4292c6" points="627.7,536.0 631.0,530.0 636.0,528.5 637.0,531.0 632.0,538.0 628.0,540.0"/>
<polygon fill="#3fb5c4" points="622.0,538.0 628.0,538.0 629.0,543.0 623.0,544.0"/>
<polygon fill="#fff" points="626.0,563.0 634.0,563.0 634.0,567.0 626.0,567.0"/>
<polygon fill="#e0343a" points="624.0,571.0 627.0,569.0 628.0,571.0 625.0,573.0"/>
<polygon fill="#74c476" points="605.0,552.0 607.0,552.0 607.0,555.0 605.0,555.0"/>
<polygon fill="#fdd3a5" points="593.0,553.0 601.0,548.0 604.0,553.0 598.0,562.0 594.0,560.0"/>
<polygon fill="#fdd3a5" points="540.0,645.0 542.0,643.0 544.0,641.0 546.0,639.0 548.0,637.0 550.0,635.0 552.0,633.0 554.0,631.0 556.0,629.0 558.0,627.0 560.0,625.0 562.0,623.7 564.0,622.4 566.0,621.1 568.0,619.5 570.0,616.8 572.0,614.1 574.0,611.4 576.0,609.4 578.0,607.9 580.0,606.3 582.0,604.8 584.0,603.3 586.0,601.2 588.0,598.9 590.0,596.7 592.0,594.4 594.0,595.9 596.0,599.9 598.0,597.5 600.0,593.4 602.0,590.2 604.0,588.2 606.0,586.3 608.0,584.3 610.0,588.3 612.0,589.5 614.0,586.8 616.0,584.1 618.0,581.4 620.0,580.1 622.0,578.8 624.0,577.5 626.0,577.3 628.0,579.4 630.0,581.4 632.0,579.0 634.0,576.6 636.0,574.2 638.0,576.8 640.0,578.3 642.0,573.4 644.0,568.5 646.0,564.2 648.0,560.2 650.0,556.3 652.0,552.8 654.0,549.5 656.0,546.5 658.0,543.3 660.0,540.0 662.0,539.3 664.0,538.7 666.0,538.0 666.0,690.0 540.0,690.0"/>
<polygon fill="#fdbe85" points="540.0,645.4 542.0,643.4 544.0,641.4 546.0,639.4 548.0,637.4 550.0,635.4 552.0,633.4 554.0,631.4 556.0,629.4 558.0,627.4 560.0,625.4 562.0,624.1 564.0,622.8 566.0,621.5 568.0,619.9 570.0,618.2 572.0,616.7 574.0,615.2 576.0,613.9 578.0,612.6 580.0,611.3 582.0,610.0 584.0,608.7 586.0,606.9 588.0,605.0 590.0,603.3 592.0,601.7 594.0,603.2 596.0,606.7 598.0,605.0 600.0,601.7 602.0,598.9 604.0,597.1 606.0,595.2 608.0,593.4 610.0,596.3 612.0,597.0 614.0,594.6 616.0,592.2 618.0,589.9 620.0,588.7 622.0,587.4 624.0,586.2 626.0,586.1 628.0,587.9 630.0,589.7 632.0,587.9 634.0,586.1 636.0,584.3 638.0,586.5 640.0,587.8 642.0,583.9 644.0,580.1 646.0,576.7 648.0,573.3 650.0,570.1 652.0,567.1 654.0,564.3 656.0,561.7 658.0,558.9 660.0,556.0 662.0,555.2 664.0,554.4 666.0,553.6 666.0,690.0 540.0,690.0"/>
<polygon fill="#fb9060" points="540.0,645.7 542.0,643.7 544.0,641.7 546.0,639.7 548.0,637.7 550.0,635.7 552.0,633.7 554.0,631.7 556.0,629.7 558.0,627.7 560.0,625.7 562.0,624.4 564.0,623.1 566.0,621.8 568.0,620.2 570.0,619.4 572.0,618.8 574.0,618.2 576.0,617.6 578.0,616.4 580.0,615.3 582.0,614.1 584.0,613.0 586.0,611.4 588.0,609.8 590.0,608.6 592.0,607.6 594.0,609.0 596.0,612.1 598.0,611.0 600.0,608.4 602.0,605.9 604.0,604.1 606.0,602.4 608.0,600.6 610.0,602.7 612.0,603.0 614.0,600.8 616.0,598.6 618.0,596.6 620.0,595.5 622.0,594.4 624.0,593.3 626.0,593.2 628.0,594.7 630.0,596.3 632.0,595.0 634.0,593.7 636.0,592.4 638.0,594.2 640.0,595.4 642.0,592.4 644.0,589.5 646.0,586.7 648.0,583.8 650.0,581.1 652.0,578.5 654.0,576.1 656.0,573.8 658.0,571.3 660.0,568.7 662.0,567.8 664.0,567.0 666.0,566.1 666.0,690.0 540.0,690.0"/>
<polygon fill="#f06a4a" points="540.0,646.0 542.0,644.0 544.0,642.0 546.0,640.0 548.0,638.0 550.0,636.0 552.0,634.0 554.0,632.0 556.0,630.0 558.0,628.0 560.0,626.0 562.0,624.7 564.0,623.4 566.0,622.1 568.0,620.5 570.0,620.6 572.0,620.9 574.0,621.2 576.0,621.2 578.0,620.2 580.0,619.2 582.0,618.3 584.0,617.3 586.0,616.0 588.0,614.7 590.0,613.9 592.0,613.5 594.0,614.9 596.0,617.5 598.0,617.0 600.0,615.1 602.0,612.8 604.0,611.2 606.0,609.5 608.0,607.9 610.0,609.1 612.0,609.0 614.0,607.1 616.0,605.1 618.0,603.4 620.0,602.4 622.0,601.3 624.0,600.3 626.0,600.2 628.0,601.6 630.0,602.9 632.0,602.1 634.0,601.3 636.0,600.5 638.0,602.0 640.0,603.0 642.0,600.9 644.0,598.8 646.0,596.6 648.0,594.3 650.0,592.0 652.0,589.9 654.0,587.9 656.0,585.9 658.0,583.8 660.0,581.5 662.0,580.5 664.0,579.5 666.0,578.6 666.0,690.0 540.0,690.0"/>
<polygon fill="#e0343a" points="540.0,646.4 542.0,644.4 544.0,642.4 546.0,640.4 548.0,638.4 550.0,636.4 552.0,634.4 554.0,632.4 556.0,630.4 558.0,628.4 560.0,626.4 562.0,625.1 564.0,623.8 566.0,622.5 568.0,620.9 570.0,622.1 572.0,623.5 574.0,625.0 576.0,625.8 578.0,625.0 580.0,624.2 582.0,623.4 584.0,622.6 586.0,621.7 588.0,620.7 590.0,620.5 592.0,620.8 594.0,622.2 596.0,624.3 598.0,624.5 600.0,623.4 602.0,621.5 604.0,620.0 606.0,618.5 608.0,617.0 610.0,617.1 612.0,616.6 614.0,614.9 616.0,613.2 618.0,611.9 620.0,610.9 622.0,610.0 624.0,609.1 626.0,609.0 628.0,610.1 630.0,611.2 632.0,611.0 634.0,610.8 636.0,610.6 638.0,611.7 640.0,612.5 642.0,611.4 644.0,610.4 646.0,609.1 648.0,607.4 650.0,605.8 652.0,604.2 654.0,602.7 656.0,601.1 658.0,599.3 660.0,597.5 662.0,596.4 664.0,595.3 666.0,594.2 666.0,690.0 540.0,690.0"/>
<polygon fill="#cc2125" points="540.0,646.7 542.0,644.7 544.0,642.7 546.0,640.7 548.0,638.7 550.0,636.7 552.0,634.7 554.0,632.7 556.0,630.7 558.0,628.7 560.0,626.7 562.0,625.4 564.0,624.0 566.0,622.7 568.0,621.1 570.0,623.0 572.0,625.1 574.0,627.3 576.0,628.5 578.0,627.8 580.0,627.2 582.0,626.5 584.0,625.9 586.0,625.1 588.0,624.4 590.0,624.5 592.0,625.2 594.0,626.6 596.0,628.3 598.0,629.0 600.0,628.4 602.0,626.7 604.0,625.3 606.0,623.9 608.0,622.4 610.0,621.9 612.0,621.1 614.0,619.5 616.0,618.0 618.0,617.0 620.0,616.1 622.0,615.2 624.0,614.4 626.0,614.3 628.0,615.2 630.0,616.1 632.0,616.3 634.0,616.5 636.0,616.7 638.0,617.5 640.0,618.2 642.0,617.8 644.0,617.4 646.0,616.6 648.0,615.3 650.0,614.0 652.0,612.8 654.0,611.6 656.0,610.2 658.0,608.6 660.0,607.0 662.0,605.9 664.0,604.7 666.0,603.5 666.0,690.0 540.0,690.0"/>
<polygon fill="#f06a4a" points="528.0,690.0 528.6,657.7 531.0,644.0 539.5,632.0 543.0,621.0 551.3,612.4 554.5,599.0 560.5,610.0 569.0,619.0 576.0,629.3 588.8,626.0 599.0,632.7 599.0,690.0"/>
<polygon fill="#b51014" points="540.7,638.6 543.7,629.6 548.0,623.6 554.0,616.0 557.0,613.0 560.0,616.0 566.0,620.6 570.0,625.0 575.3,632.3 588.8,629.0 599.0,635.7 609.0,629.0 616.0,624.5 625.0,621.0 635.0,624.5 645.0,627.0 655.0,623.0 666.0,616.0 666.0,690.0 570.0,690.0 570.0,667.0 566.0,655.0 560.0,647.6 554.0,644.6 548.0,646.0 542.0,647.6"/>
<polygon fill="#e0343a" points="545.0,656.0 560.0,654.0 566.0,660.0 570.0,667.0 570.0,681.0 540.0,681.0 538.0,668.0"/>
<polygon fill="#cc2125" points="520.0,669.0 545.0,667.0 570.0,667.0 570.0,690.0 519.0,690.0"/>
<polygon fill="#b51014" points="556.0,668.0 570.0,664.0 570.0,690.0 552.0,690.0"/>
<polygon fill="#c7e9b4" points="530.0,650.0 530.5,644.0 534.0,638.0 539.0,630.0 543.0,624.0 548.0,618.0 552.0,613.0 553.5,617.0 549.0,624.0 545.0,630.0 540.0,637.0 536.0,644.0 535.0,649.0"/>
<polygon fill="#cc2125" points="543.7,620.0 546.0,620.0 546.5,625.0 544.5,625.0"/>
<polygon fill="#9c0006" points="572.0,659.0 585.0,652.0 592.0,638.0 610.0,634.5 640.0,632.0 656.0,626.0 665.0,622.0 665.0,690.0 560.0,690.0 563.0,672.0"/>
<polygon fill="#6a0000" points="592.8,644.0 600.0,640.5 610.0,643.0 608.0,652.0 600.0,656.8 594.0,654.0"/>
<polygon fill="#6a0000" points="615.4,642.0 625.0,640.5 635.3,643.0 634.0,653.0 626.0,656.8 617.0,653.0"/>
<polygon fill="#b51014" points="623.0,646.0 626.0,645.0 632.0,654.0 629.0,655.0"/>
<polygon fill="#b51014" points="636.0,664.0 665.0,662.0 665.0,690.0 640.0,690.0"/>
<polygon fill="#fdd3a5" points="480.0,620.0 501.0,620.0 501.0,690.0 480.0,690.0"/>
<polygon fill="#fdbe85" points="500.0,620.0 511.0,620.0 511.0,690.0 500.0,690.0"/>
<polygon fill="#fb9060" points="510.6,620.0 520.0,620.0 520.0,690.0 510.6,690.0"/>
<polygon fill="#f06a4a" points="517.5,620.0 530.0,620.0 530.0,668.0 517.5,668.0"/>
<polygon fill="#cc2125" points="521.0,629.6 527.0,629.6 527.0,646.0 523.0,646.0 521.0,640.0"/>
<polygon fill="#ffffc8" points="497.0,654.0 504.6,653.0 504.6,662.7 497.0,662.7"/>
<polygon fill="#ffffc8" points="510.6,638.6 513.6,638.6 513.6,644.6 510.6,644.6"/>
<polygon fill="#f06a4a" points="519.0,667.0 533.0,667.0 533.0,690.0 519.0,690.0"/>
</g>
</g>
<g clip-path="url(#mc)" class="c">
<polyline points="0.0,233.1 2.7,236.7 6.3,242.1 9.0,247.6 7.6,250.3 6.3,246.7 3.6,244.9 0.0,244.5"/>
<polyline points="0.0,255.3 5.4,258.4 9.0,261.1 10.8,263.8 13.5,266.2 16.2,271.9 19.0,279.2 21.3,286.4 21.7,290.9 19.9,296.3 16.2,299.0 11.7,302.6 7.2,307.1 3.6,311.6 0.0,315.3"/>
<polyline points="0.0,314.7 5.4,315.3 9.0,317.1 11.7,321.6 13.5,323.4 18.0,323.4 21.3,324.3 22.9,326.6 24.4,322.5 26.7,318.0 28.9,312.5 33.0,307.5 35.2,309.3 38.8,308.4 48.7,308.4 53.2,307.5 56.0,309.3 60.5,309.3 63.2,308.4 66.8,310.2 72.2,310.7 79.4,312.5 83.0,313.4 87.5,317.1 93.9,321.6 99.3,326.1 102.9,330.6 104.3,337.8 104.7,344.0 106.5,352.1 104.3,362.1 101.1,369.3 98.4,373.8 98.0,382.8 95.7,389.2 89.4,393.7 83.9,399.1 80.3,403.6 77.6,402.7 76.2,399.1 74.9,403.2 68.6,403.0 74.9,404.5 74.4,409.0 72.2,409.9 76.7,410.8 75.5,414.4 71.3,418.0 65.9,419.8 62.3,418.9 57.8,417.1 53.2,418.9 50.5,422.5 44.2,423.4 46.0,426.2 51.4,423.4 56.9,424.4 57.4,430.7 55.0,433.9 48.7,433.9 54.2,435.2 53.2,438.8 46.9,443.3 40.6,442.3 36.1,444.4 28.0,445.3 25.3,449.0 28.9,447.5 37.0,447.5 41.5,449.5 38.8,452.6 34.7,453.8 36.1,456.2 40.6,456.7 43.3,453.5 46.9,452.0 52.3,452.6 55.0,455.3 54.2,458.0 47.8,458.3 52.3,460.3 61.4,459.2 72.2,456.7 81.2,456.2 87.5,455.3 87.2,459.8 83.9,462.5 83.9,468.8 84.8,474.2 83.9,477.8 79.4,482.3 73.1,483.2 68.6,485.6 62.3,488.7 58.7,493.2 58.7,500.8 54.2,500.4 47.8,499.1 43.3,501.3 38.8,505.8 30.7,508.0 22.6,509.8 18.0,514.8 15.0,517.9 9.0,515.2 0.0,512.7"/>
<polyline points="0.0,649.8 4.9,646.9 9.8,642.0 23.5,640.0 28.4,637.5 13.7,638.0 5.9,635.1 4.9,631.2 7.8,624.3 9.8,617.5 12.7,614.1 21.6,609.6 33.3,602.7 39.2,598.8 50.0,597.5 58.8,594.9 66.7,592.5 74.5,589.0 79.4,583.1 85.3,579.2 88.2,575.3 90.2,568.4 94.1,568.0 98.6,569.4 96.1,564.5 92.5,560.6 94.7,553.7 94.1,547.8 94.2,542.0 95.3,535.6 93.9,527.5 94.2,520.3 95.7,511.2 94.8,505.5 99.3,503.1 104.2,497.9 112.6,494.1 123.2,491.6 131.6,489.1 139.0,487.4 143.2,488.4 151.6,484.8 163.2,476.8 177.9,467.4 190.5,460.4 202.1,457.5 209.5,455.4 214.7,454.7 222.1,457.9 230.5,460.0 238.8,457.7 242.4,455.3 246.0,458.2 250.5,459.5 253.2,456.8 255.0,459.5 257.8,464.9 256.0,464.0 254.2,459.5 252.3,462.2 247.8,466.7 242.4,469.4 237.0,472.1 228.9,472.5 227.0,467.6 221.7,464.9 216.2,464.4 210.8,466.7 208.1,470.3 204.5,468.5 202.2,464.0 202.1,457.5"/>
<polyline points="152.0,484.8 153.7,489.5 156.4,495.8 156.4,503.2 157.9,508.4 163.2,512.6 168.4,518.5 174.7,521.5 176.8,516.8 182.1,513.7 188.4,512.6 191.6,515.8 195.8,525.3 197.9,534.7 203.2,540.0 208.4,536.8 215.8,540.0 220.4,544.2 222.1,556.8 228.4,554.7 234.7,553.7 240.0,554.7 246.3,558.0 253.5,562.7 249.9,570.6 253.5,577.7 249.9,584.8 257.0,590.2 267.7,592.6 276.6,590.2 283.7,581.2 287.3,577.0 290.9,574.0 289.1,583.0 291.0,592.0 292.6,600.2 297.7,606.6 306.7,610.4 314.4,615.6 319.5,620.7 322.9,622.0 325.9,624.3 327.8,629.2 329.4,633.1 334.7,632.2 338.6,631.2 344.5,630.6 349.4,630.2"/>
<polyline points="243.3,414.0 238.8,413.5 233.0,415.3 232.1,418.9 237.9,417.4 242.4,418.9 248.7,422.5 254.2,424.3 260.5,426.1 261.7,428.3 258.7,430.0 252.3,428.8 248.7,428.8 246.9,430.6 244.2,428.3 240.6,425.2 237.0,423.4 231.6,422.5 225.3,422.9 222.6,424.3 222.0,427.9 225.3,429.4 229.8,427.9 234.3,430.6 238.8,434.2 244.2,433.3 249.6,434.2 253.2,437.3 248.7,436.0 243.3,436.0 240.6,437.8 243.3,441.4 247.8,442.7 254.2,443.8 257.8,446.3 256.9,449.6 252.3,451.4 247.3,450.5 244.2,447.4 240.6,444.2 235.2,441.4 232.5,437.8 227.0,435.5 219.9,436.6 214.4,436.6 209.9,439.6 207.6,443.8 210.8,447.8 217.1,450.5 222.6,449.6 226.2,453.2 230.7,455.3 235.2,454.1 236.1,451.0 239.7,450.5 242.4,453.2 246.9,454.1 253.8,454.1 254.2,456.8"/>
<polyline points="200.0,458.2 205.4,455.9 213.5,454.1 219.9,456.4 226.2,459.5 232.5,460.0 238.8,457.7"/>
<polyline points="243.3,414.0 244.2,411.7 242.4,409.0 243.9,406.2 241.9,402.6 242.4,399.9 246.5,399.3 249.5,396.5 253.0,392.0 257.1,387.3 263.5,380.1 267.1,375.6 271.6,367.5 274.3,360.3 277.0,353.9 277.9,345.8 278.8,336.8 280.1,327.8 282.4,318.7 284.2,311.5 285.1,307.0 287.8,307.9 289.6,311.9 294.2,313.9 298.7,311.5 304.1,309.4 309.5,305.2 314.9,299.8 319.4,297.1 323.0,295.8 323.4,293.5 325.5,287.5 330.0,281.2 336.2,276.0 345.3,271.5 354.7,268.2 364.2,266.0 369.5,265.4 369.9,271.3 372.6,274.5 376.2,273.8 378.3,270.3 378.9,265.0 384.2,264.4 390.5,263.3 397.9,261.8 403.2,259.7 407.4,260.4 411.6,262.5 414.7,266.0 415.4,270.3 417.9,273.0 423.2,274.5 428.4,275.1 433.0,274.5 441.0,273.5"/>
<polyline points="385.3,246.0 395.8,249.8 401.0,254.5 405.3,258.7 411.6,261.8 415.8,266.0 416.8,270.3 421.0,273.8 426.3,275.5 431.6,280.2 433.3,288.2 432.6,295.0 433.7,303.4 431.6,310.8 427.4,318.2 424.6,325.5 424.5,332.0 423.9,338.0 415.8,338.0 405.9,337.5 403.5,339.9 404.6,344.4 402.3,348.9 403.2,353.4 408.6,355.2 415.8,357.5 419.4,355.2 423.0,359.7 424.5,364.2 423.0,371.4 423.4,376.9 419.4,378.7 415.8,382.3 411.3,386.8 406.8,388.6 402.8,392.2 405.0,395.8 409.5,398.5 408.2,404.8 404.1,408.4 399.6,407.5 392.3,410.3 386.0,412.1 383.7,414.8 380.6,412.1 375.2,410.6 370.7,409.4 369.8,408.1 368.9,412.1 364.4,413.0 359.0,414.8 358.6,418.4 357.7,422.0 361.0,424.8 365.7,428.6 366.7,434.3 372.4,442.9 374.3,454.3 371.4,461.9 366.7,468.6 364.8,474.3 366.7,477.1 369.5,476.2 367.6,479.4 362.9,482.9 359.0,486.7 355.2,487.6 353.0,489.5 354.3,493.3 359.0,495.2 363.8,500.0 365.7,504.8 363.8,509.5 360.6,513.5 362.9,519.0 366.7,522.9 371.4,528.6 375.2,528.6 373.3,533.3 375.2,539.0 381.8,541.0 383.1,545.9 382.7,551.8 384.3,556.7 378.8,558.6 372.9,563.5 370.6,569.4 367.1,571.4 368.0,579.2 370.6,588.0 374.9,594.9 379.8,600.8 384.7,603.7 390.2,605.1 391.6,610.6 389.6,615.5 386.3,620.4 383.7,629.2 382.4,637.0 387.6,638.0 392.5,642.0 395.5,647.8 398.4,653.7 402.4,659.6 405.3,665.5 411.2,665.5 412.2,662.5 418.0,662.5 422.0,665.5 423.9,670.4 425.9,667.8 431.8,669.4 437.6,669.8 440.0,669.6 448.0,671.5 457.0,675.0 462.5,677.6 470.0,678.0 477.0,678.2 482.3,680.5"/>
<polyline points="304.1,309.4 305.9,314.2 307.7,319.6 309.0,326.0 312.2,328.1 317.6,328.7 318.9,332.3 314.9,335.0 312.2,338.2 305.0,339.1 302.3,342.2 304.1,347.6 305.0,354.8 304.6,360.3 300.5,362.4 301.4,365.7 307.7,367.5 311.3,368.9 317.6,370.2 321.2,373.8 325.7,375.6 331.2,373.8 334.8,369.3 339.3,365.7 344.7,363.0 348.3,360.3 351.9,354.8 352.8,349.4 351.0,344.0 346.5,341.8 340.2,342.2"/>
<polyline points="323.0,295.8 324.8,302.5 326.3,309.7 324.8,316.9 330.3,318.7 333.9,319.6 338.4,318.4 340.7,321.4 338.4,326.0 337.1,333.2 338.4,339.5 340.2,342.2"/>
<polyline points="340.2,342.2 334.8,343.6 330.3,346.7 327.5,350.3 322.1,353.4 315.8,356.6 311.3,359.7 309.5,363.9 310.8,367.5 315.8,368.9 320.3,372.0 324.8,374.3 330.3,372.9 333.0,369.3 337.5,364.8 342.9,361.7 347.4,358.4 350.5,353.9 351.6,348.5 349.8,344.4 345.6,342.7 340.2,342.2"/>
<polyline points="322.1,295.5 323.5,300.0 325.3,305.0"/>
<polygon points="283.3,299.8 285.1,295.3 288.7,289.9 292.3,287.1 295.0,289.0 294.2,294.4 291.4,300.7 287.8,304.3 284.2,304.7 283.0,302.5"/>
<polygon points="295.0,282.6 298.7,279.0 303.2,275.8 304.6,276.9 301.4,280.5 296.9,283.5"/>
<polygon points="311.0,269.2 314.7,267.1 323.2,264.6 331.6,262.5 335.4,261.8 334.7,263.5 327.4,266.7 319.0,269.6 312.6,271.3"/>
<polygon points="339.0,262.5 342.1,260.4 350.5,260.4 357.9,261.2 355.2,262.9 347.4,264.0 341.0,265.0"/>
<polygon points="370.5,258.3 373.7,257.0 380.0,256.2 379.6,257.8 374.7,259.3 371.6,259.7"/>
<polygon points="400.0,248.2 404.2,246.0 408.4,246.7 406.3,248.8 402.1,250.3"/>
<polyline points="255.0,457.7 259.6,458.6 264.1,458.2 265.0,451.4 268.6,447.8 273.1,447.8 273.5,452.8 278.5,452.8 282.1,448.7 286.6,445.6 289.9,446.9 289.4,454.1 294.8,455.0 299.3,452.3 302.0,447.8 304.7,448.1 306.5,453.2 307.2,456.2 309.5,461.0 314.3,462.9 315.2,467.6 322.9,466.7 330.5,465.1 333.3,467.6 335.2,471.4 341.0,475.2 347.6,476.2 352.4,479.0 350.5,481.9 346.7,488.6 345.7,496.2 342.9,501.0 340.0,504.8 341.0,509.5 342.9,514.3 348.6,514.3 355.2,515.2 360.6,513.5"/>
<polyline points="202.1,457.5 202.5,464.2 205.3,468.0 209.5,470.5 214.7,465.9 221.0,464.6 226.3,467.4 228.4,471.6 234.7,472.2 240.0,470.5 247.8,466.7"/>
<polyline points="367.1,571.4 362.2,570.4 359.2,572.4 355.3,577.3 352.4,582.2 348.4,589.0 345.5,595.9 345.1,602.7 347.5,607.6 351.4,612.5 352.4,617.5 354.3,620.4 352.4,626.3 349.4,630.2 352.4,633.1 358.2,635.1 362.2,638.0 367.1,637.0 372.0,634.1 376.9,634.5 382.4,637.5"/>
<polyline points="441.0,237.7 436.8,239.8 430.5,243.4 426.7,248.7 428.0,252.9 424.2,257.1 422.5,264.5 423.2,271.8 426.3,278.2 430.5,281.3 433.7,279.2 435.2,275.0 441.0,273.5"/>
<polyline points="441.0,237.7 449.5,239.8 452.6,241.3 462.1,238.6 472.6,236.7 480.6,236.7 483.2,241.3 487.0,248.7 490.5,254.0 489.5,256.7 485.3,258.2 487.0,261.7 492.6,265.5 496.8,264.5 499.6,258.2 496.2,254.0 495.8,249.7 499.6,246.6 504.2,248.3 509.5,251.8 513.7,254.6 511.0,260.3 511.0,268.7"/>
<polyline points="513.7,254.6 511.6,246.6 510.0,238.2 512.6,228.7 516.8,221.3 520.0,219.6 525.3,222.4 531.6,225.1 540.0,225.5 546.3,223.4 554.5,221.6 559.7,224.7 564.0,231.0 569.2,236.3 573.4,242.6 580.8,250.0 586.0,253.2 590.3,252.0 587.0,250.6 581.8,247.3 575.5,240.5 571.3,234.2 566.0,227.9 561.8,223.7 555.8,221.0 548.6,220.7 541.4,220.2 536.8,217.5 533.6,212.0 533.2,206.6 536.0,208.4 540.5,206.6 541.7,201.2 538.7,197.6 533.2,196.7 530.9,193.1 532.3,188.6 536.0,185.9 536.8,181.4 535.0,183.5 533.2,182.3 526.9,183.5 520.6,184.1 517.5,178.7 519.4,176.0 520.6,172.9 531.4,170.9 538.7,168.7 542.3,164.2 540.5,160.6 534.2,155.2 529.6,153.4 530.5,148.9 526.0,143.5 521.9,137.1 520.0,130.8 520.6,125.4 520.5,122.0 519.6,114.8 520.5,107.6 522.0,103.1 521.4,99.5 520.5,91.4 519.6,84.2 518.4,77.8 516.0,74.2 510.6,73.3 505.2,70.6 501.6,66.1 498.0,61.6 496.2,63.4 497.0,68.8 491.7,65.2 486.6,63.9 488.0,58.9 490.2,49.9 491.3,40.8 491.7,33.0"/>
<polyline points="493.5,37.2 498.9,35.4 503.4,33.0"/>
<polyline points="522.0,103.1 518.7,104.0 515.1,103.1"/>
<polyline points="420.0,240.7 425.3,239.8"/>
<polygon points="430.5,236.7 441.0,235.6 441.0,237.0 431.5,238.2"/>
<polyline points="443.0,236.0 446.5,236.0"/>
<polygon points="449.5,233.5 457.5,232.5 458.0,233.8 450.5,234.8"/>
<polyline points="461.0,231.8 467.4,230.8"/>
<polyline points="471.6,230.2 476.8,230.2"/>
<polyline points="489.5,236.0 492.6,235.4"/>
<polyline points="414.7,240.8 426.3,239.3"/>
<polyline points="430.5,237.2 440.0,236.0"/>
<polygon points="505.3,140.8 509.8,139.0 515.2,139.5 516.1,142.6 512.5,145.3 507.0,144.4"/>
<polygon points="499.5,146.2 501.7,144.4 502.6,147.1 500.8,151.0 499.3,149.8"/>
<polygon points="530.5,162.4 534.2,160.6 537.8,161.5 537.4,165.1 533.2,166.6 530.5,165.1"/>
<polyline points="515.1,98.2 511.5,98.6 509.2,101.3 509.4,106.7 511.5,109.4 514.8,108.0 515.5,104.0 515.1,98.2"/>
<polyline points="498.9,136.5 498.0,129.3 498.9,122.0 501.6,114.8 504.3,111.2 507.0,112.1 508.8,115.7 510.6,116.6 513.3,118.4 515.1,123.0 518.7,124.8 521.4,125.7"/>
<polyline points="503.4,114.8 501.6,122.0 500.7,128.4 506.1,127.5 513.3,126.6 517.8,126.6"/>
<polyline points="500.7,129.0 499.8,134.7 498.0,139.9"/>
<polyline points="513.4,230.0 515.2,225.6 518.8,221.0 523.3,220.2 528.7,222.9 534.2,224.7 541.4,225.6 549.5,222.9 555.8,221.4"/>
<polyline points="520.6,125.4 527.0,124.5 534.2,124.0 541.4,127.2 549.5,129.0 555.8,133.5 561.2,133.5 567.5,132.6 572.0,128.1 576.5,126.3 573.8,130.0 570.2,132.6 577.5,129.0 581.0,130.8 583.8,133.3 590.1,134.2 595.5,136.9 600.0,140.5 602.8,146.0 603.7,153.2 601.9,159.5 597.3,164.0 592.8,166.7 597.3,165.8 604.6,164.0 610.9,165.8 613.6,171.2 611.8,176.6 610.0,178.4 615.4,173.0 620.8,170.3 628.0,172.1 635.3,174.8 642.5,178.4 649.7,180.3 656.9,178.4 662.3,174.8 665.0,173.0"/>
<polyline points="595.5,33.0 597.6,37.4 604.0,40.5 601.8,45.8 596.6,51.0 588.2,52.7 580.8,50.6 574.5,49.4"/>
<polyline points="588.2,52.7 585.0,58.4 578.7,64.7 573.8,69.0 577.6,72.0 580.8,80.5 581.4,91.0 580.2,98.1 574.8,100.8 571.2,103.5 573.9,108.0 569.4,111.7 573.9,112.6 578.4,115.3 583.8,120.7 588.3,123.4 590.1,126.1 585.6,128.8 579.3,130.6 573.9,127.9"/>
<polyline points="607.0,33.5 613.4,35.3"/>
<polyline points="573.8,69.0 578.7,67.9 585.0,66.2 594.5,63.7 605.0,61.6 613.4,59.0 619.7,57.4 626.0,61.6 631.3,65.8 635.5,67.9 638.7,61.6 641.8,64.7 644.6,71.0 638.7,71.0 634.5,70.0 628.2,73.2 630.3,74.2 638.7,72.0 645.0,72.0 649.2,82.6 650.9,86.8 647.0,93.2 648.2,101.6 645.0,108.0 637.6,111.0 630.3,113.2 624.0,112.0 617.6,111.0 611.3,109.6 606.0,105.8 602.9,99.5 598.7,97.4 595.5,92.1 592.4,82.6 588.2,78.4 585.0,71.0 583.0,68.0"/>
<polygon points="580.2,110.8 586.5,109.0 592.8,110.8 599.1,116.2 602.8,121.6 604.6,125.2 601.9,127.0 595.5,126.1 591.0,124.3 588.3,119.8 585.6,116.2 582.0,113.5"/>
<polygon points="612.7,118.9 617.2,121.6 622.6,125.2 629.8,127.0 628.9,130.6 624.4,128.8 619.0,126.1 614.5,122.5"/>
<polygon points="655.1,103.5 657.3,103.0 656.9,109.9 654.2,117.1 650.6,124.3 646.1,133.3 643.4,140.5 640.7,139.6 638.0,133.3 642.5,130.6 646.1,124.3 650.6,115.3 653.3,108.0"/>
<polyline points="634.5,33.0 632.4,39.5 635.5,43.7 638.7,41.6 639.7,33.0"/>
<polyline points="655.5,45.8 659.7,47.9 665.0,49.0"/>
<polyline points="665.0,51.0 659.7,50.0 662.9,54.2 665.0,56.0"/>
<polyline points="665.0,116.3 661.8,120.5 662.9,123.7 665.0,125.0"/>
<polyline points="665.0,122.5 662.3,126.1 660.5,133.3 661.4,137.8 665.0,138.7"/>
<polyline points="665.0,160.4 663.2,163.1 664.1,166.7 665.0,168.0"/>
<polyline points="665.0,193.2 657.6,195.3 651.3,198.4 647.5,203.7 648.2,209.0 652.4,211.0 659.7,213.2 665.0,209.0"/>
</g>
<g fill="none" stroke="#000" stroke-width="1.6">
<line x1="0" y1="33" x2="665" y2="33" stroke-width="1.9"/>
<line x1="0" y1="681.2" x2="665" y2="681.2" stroke-width="1.6"/>
<line x1="0.3" y1="32" x2="0.3" y2="682" stroke-width="1.4"/>
<line x1="664.3" y1="32" x2="664.3" y2="682" stroke-width="1.6"/>
</g>
<path d="M5.35 9.36 L5.35 23.95 M16.78 9.36 L5.35 19.09 M9.43 15.61 L16.78 23.95 M22.49 9.36 L22.49 23.95 M22.49 9.36 L33.92 23.95 M33.92 9.36 L33.92 23.95 M40.46 9.36 L40.46 23.95 M40.46 9.36 L46.99 23.95 M53.52 9.36 L46.99 23.95 M53.52 9.36 L53.52 23.95 M60.05 9.36 L60.05 23.95" fill="none" stroke="#000" stroke-width="1.50" stroke-linecap="round" stroke-linejoin="round"/>
<path d="M81.35 9.36 L81.35 23.95 M92.96 9.36 L92.96 23.95 M81.35 16.30 L92.96 16.30 M108.71 14.22 L108.71 23.95 M108.71 16.30 L107.05 14.91 L105.39 14.22 L102.91 14.22 L101.25 14.91 L99.59 16.30 L98.76 18.39 L98.76 19.78 L99.59 21.86 L101.25 23.25 L102.91 23.95 L105.39 23.95 L107.05 23.25 L108.71 21.86 M115.34 14.22 L115.34 23.95 M115.34 18.39 L116.17 16.30 L117.83 14.91 L119.49 14.22 L121.97 14.22 M126.12 14.22 L126.12 23.95 M126.12 17.00 L128.61 14.91 L130.27 14.22 L132.75 14.22 L134.41 14.91 L135.24 17.00 L135.24 23.95 M135.24 17.00 L137.73 14.91 L139.39 14.22 L141.87 14.22 L143.53 14.91 L144.36 17.00 L144.36 23.95 M154.31 14.22 L152.65 14.91 L150.99 16.30 L150.16 18.39 L150.16 19.78 L150.99 21.86 L152.65 23.25 L154.31 23.95 L156.80 23.95 L158.45 23.25 L160.11 21.86 L160.94 19.78 L160.94 18.39 L160.11 16.30 L158.45 14.91 L156.80 14.22 L154.31 14.22 M166.75 14.22 L166.75 23.95 M166.75 17.00 L169.23 14.91 L170.89 14.22 L173.38 14.22 L175.04 14.91 L175.86 17.00 L175.86 23.95 M181.67 9.36 L182.50 10.05 L183.33 9.36 L182.50 8.66 L181.67 9.36 M182.50 14.22 L182.50 23.95 M188.30 18.39 L198.25 18.39 L198.25 17.00 L197.42 15.61 L196.59 14.91 L194.93 14.22 L192.45 14.22 L190.79 14.91 L189.13 16.30 L188.30 18.39 L188.30 19.78 L189.13 21.86 L190.79 23.25 L192.45 23.95 L194.93 23.95 L196.59 23.25 L198.25 21.86" fill="none" stroke="#000" stroke-width="1.50" stroke-linecap="round" stroke-linejoin="round"/>
<path d="M216.45 9.36 L223.04 23.95 M229.64 9.36 L223.04 23.95 M241.17 9.36 L232.93 19.09 L245.29 19.09 M241.17 9.36 L241.17 23.95 M251.06 9.36 L260.13 9.36 L255.18 14.91 L257.65 14.91 L259.30 15.61 L260.13 16.30 L260.95 18.39 L260.95 19.78 L260.13 21.86 L258.48 23.25 L256.01 23.95 L253.53 23.95 L251.06 23.25 L250.24 22.56 L249.41 21.17" fill="none" stroke="#000" stroke-width="1.50" stroke-linecap="round" stroke-linejoin="round"/>
<path d="M293.18 15.20 L293.18 24.25 M293.18 15.20 L297.64 15.20 L299.13 15.63 L299.62 16.06 L300.12 16.92 L300.12 17.79 L299.62 18.65 L299.13 19.08 L297.64 19.51 L293.18 19.51 M296.65 19.51 L300.12 24.25 M303.59 18.22 L303.59 22.53 L304.08 23.82 L305.08 24.25 L306.56 24.25 L307.56 23.82 L309.04 22.53 M309.04 18.22 L309.04 24.25 M313.01 18.22 L313.01 24.25 M313.01 19.94 L314.50 18.65 L315.49 18.22 L316.98 18.22 L317.97 18.65 L318.47 19.94 L318.47 24.25 M322.93 18.22 L322.43 18.65 L322.93 19.08 L323.43 18.65 L322.93 18.22 M322.93 23.39 L322.43 23.82 L322.93 24.25 L323.43 23.82 L322.93 23.39" fill="none" stroke="#000" stroke-width="1.35" stroke-linecap="round" stroke-linejoin="round"/>
<path d="M337.38 16.92 L338.39 16.49 L339.92 15.20 L339.92 24.25 M346.53 17.35 L346.53 16.92 L347.04 16.06 L347.54 15.63 L348.56 15.20 L350.60 15.20 L351.61 15.63 L352.12 16.06 L352.63 16.92 L352.63 17.79 L352.12 18.65 L351.10 19.94 L346.02 24.25 L353.14 24.25 M359.24 15.20 L355.17 24.25 M359.24 15.20 L363.31 24.25 M356.70 21.23 L361.78 21.23 M365.85 15.20 L365.85 24.25 M365.85 15.20 L370.43 15.20 L371.95 15.63 L372.46 16.06 L372.97 16.92 L372.97 18.22 L372.46 19.08 L371.95 19.51 L370.43 19.94 L365.85 19.94 M376.53 15.20 L376.53 24.25 M376.53 15.20 L381.10 15.20 L382.63 15.63 L383.14 16.06 L383.65 16.92 L383.65 17.79 L383.14 18.65 L382.63 19.08 L381.10 19.51 L376.53 19.51 M380.09 19.51 L383.65 24.25 M387.21 17.35 L387.21 16.92 L387.71 16.06 L388.22 15.63 L389.24 15.20 L391.27 15.20 L392.29 15.63 L392.80 16.06 L393.31 16.92 L393.31 17.79 L392.80 18.65 L391.78 19.94 L386.70 24.25 L393.82 24.25 M399.92 15.20 L398.39 15.63 L397.38 16.92 L396.87 19.08 L396.87 20.37 L397.38 22.53 L398.39 23.82 L399.92 24.25 L400.93 24.25 L402.46 23.82 L403.48 22.53 L403.99 20.37 L403.99 19.08 L403.48 16.92 L402.46 15.63 L400.93 15.20 L399.92 15.20 M407.55 17.35 L407.55 16.92 L408.05 16.06 L408.56 15.63 L409.58 15.20 L411.61 15.20 L412.63 15.63 L413.14 16.06 L413.65 16.92 L413.65 17.79 L413.14 18.65 L412.12 19.94 L407.04 24.25 L414.16 24.25 M423.82 16.49 L423.31 15.63 L421.78 15.20 L420.77 15.20 L419.24 15.63 L418.22 16.92 L417.71 19.08 L417.71 21.23 L418.22 22.96 L419.24 23.82 L420.77 24.25 L421.27 24.25 L422.80 23.82 L423.82 22.96 L424.32 21.66 L424.32 21.23 L423.82 19.94 L422.80 19.08 L421.27 18.65 L420.77 18.65 L419.24 19.08 L418.22 19.94 L417.71 21.23" fill="none" stroke="#000" stroke-width="1.35" stroke-linecap="round" stroke-linejoin="round"/>
<path d="M437.06 17.35 L437.06 16.92 L437.55 16.06 L438.04 15.63 L439.01 15.20 L440.97 15.20 L441.94 15.63 L442.43 16.06 L442.92 16.92 L442.92 17.79 L442.43 18.65 L441.45 19.94 L436.57 24.25 L443.41 24.25 M447.31 15.20 L452.68 15.20 L449.75 18.65 L451.21 18.65 L452.19 19.08 L452.68 19.51 L453.17 20.80 L453.17 21.66 L452.68 22.96 L451.70 23.82 L450.24 24.25 L448.77 24.25 L447.31 23.82 L446.82 23.39 L446.33 22.53 M462.93 15.20 L456.09 24.25 M456.09 15.20 L462.93 15.20 M456.09 24.25 L462.93 24.25" fill="none" stroke="#000" stroke-width="1.35" stroke-linecap="round" stroke-linejoin="round"/>
<path d="M483.68 15.20 L487.69 24.25 M491.71 15.20 L487.69 24.25 M499.74 18.22 L499.74 24.25 M499.74 19.51 L498.73 18.65 L497.73 18.22 L496.22 18.22 L495.22 18.65 L494.22 19.51 L493.71 20.80 L493.71 21.66 L494.22 22.96 L495.22 23.82 L496.22 24.25 L497.73 24.25 L498.73 23.82 L499.74 22.96 M503.75 15.20 L503.75 24.25 M507.27 15.20 L507.77 15.63 L508.27 15.20 L507.77 14.77 L507.27 15.20 M507.77 18.22 L507.77 24.25 M517.31 15.20 L517.31 24.25 M517.31 19.51 L516.30 18.65 L515.30 18.22 L513.79 18.22 L512.79 18.65 L511.78 19.51 L511.28 20.80 L511.28 21.66 L511.78 22.96 L512.79 23.82 L513.79 24.25 L515.30 24.25 L516.30 23.82 L517.31 22.96 M521.82 18.22 L521.32 18.65 L521.82 19.08 L522.33 18.65 L521.82 18.22 M521.82 23.39 L521.32 23.82 L521.82 24.25 L522.33 23.82 L521.82 23.39" fill="none" stroke="#000" stroke-width="1.35" stroke-linecap="round" stroke-linejoin="round"/>
<path d="M536.27 16.92 L537.29 16.49 L538.81 15.20 L538.81 24.25 M549.96 15.20 L544.89 21.23 L552.49 21.23 M549.96 15.20 L549.96 24.25 M558.06 15.20 L554.01 24.25 M558.06 15.20 L562.12 24.25 M555.53 21.23 L560.60 21.23 M564.65 15.20 L564.65 24.25 M564.65 15.20 L569.21 15.20 L570.73 15.63 L571.24 16.06 L571.75 16.92 L571.75 18.22 L571.24 19.08 L570.73 19.51 L569.21 19.94 L564.65 19.94 M575.29 15.20 L575.29 24.25 M575.29 15.20 L579.85 15.20 L581.37 15.63 L581.88 16.06 L582.39 16.92 L582.39 17.79 L581.88 18.65 L581.37 19.08 L579.85 19.51 L575.29 19.51 M578.84 19.51 L582.39 24.25 M585.93 17.35 L585.93 16.92 L586.44 16.06 L586.95 15.63 L587.96 15.20 L589.99 15.20 L591.00 15.63 L591.51 16.06 L592.01 16.92 L592.01 17.79 L591.51 18.65 L590.49 19.94 L585.43 24.25 L592.52 24.25 M598.60 15.20 L597.08 15.63 L596.07 16.92 L595.56 19.08 L595.56 20.37 L596.07 22.53 L597.08 23.82 L598.60 24.25 L599.62 24.25 L601.14 23.82 L602.15 22.53 L602.66 20.37 L602.66 19.08 L602.15 16.92 L601.14 15.63 L599.62 15.20 L598.60 15.20 M606.20 17.35 L606.20 16.92 L606.71 16.06 L607.22 15.63 L608.23 15.20 L610.26 15.20 L611.27 15.63 L611.78 16.06 L612.28 16.92 L612.28 17.79 L611.78 18.65 L610.76 19.94 L605.70 24.25 L612.79 24.25 M622.42 16.49 L621.91 15.63 L620.39 15.20 L619.38 15.20 L617.86 15.63 L616.84 16.92 L616.34 19.08 L616.34 21.23 L616.84 22.96 L617.86 23.82 L619.38 24.25 L619.88 24.25 L621.40 23.82 L622.42 22.96 L622.93 21.66 L622.93 21.23 L622.42 19.94 L621.40 19.08 L619.88 18.65 L619.38 18.65 L617.86 19.08 L616.84 19.94 L616.34 21.23" fill="none" stroke="#000" stroke-width="1.35" stroke-linecap="round" stroke-linejoin="round"/>
<path d="M638.52 15.20 L637.10 15.63 L636.15 16.92 L635.67 19.08 L635.67 20.37 L636.15 22.53 L637.10 23.82 L638.52 24.25 L639.48 24.25 L640.90 23.82 L641.85 22.53 L642.32 20.37 L642.32 19.08 L641.85 16.92 L640.90 15.63 L639.48 15.20 L638.52 15.20 M647.55 15.20 L646.12 15.63 L645.65 16.49 L645.65 17.35 L646.12 18.22 L647.08 18.65 L648.98 19.08 L650.40 19.51 L651.35 20.37 L651.83 21.23 L651.83 22.53 L651.35 23.39 L650.88 23.82 L649.45 24.25 L647.55 24.25 L646.12 23.82 L645.65 23.39 L645.17 22.53 L645.17 21.23 L645.65 20.37 L646.60 19.51 L648.02 19.08 L649.92 18.65 L650.88 18.22 L651.35 17.35 L651.35 16.49 L650.88 15.63 L649.45 15.20 L647.55 15.20 M661.33 15.20 L654.68 24.25 M654.68 15.20 L661.33 15.20 M654.68 24.25 L661.33 24.25" fill="none" stroke="#000" stroke-width="1.35" stroke-linecap="round" stroke-linejoin="round"/>
<path d="M11.19 692.17 L10.69 691.26 L9.68 690.36 L8.66 689.91 L6.64 689.91 L5.63 690.36 L4.61 691.26 L4.11 692.17 L3.60 693.52 L3.60 695.78 L4.11 697.14 L4.61 698.04 L5.63 698.95 L6.64 699.40 L8.66 699.40 L9.68 698.95 L10.69 698.04 L11.19 697.14 M14.74 689.91 L14.74 699.40 M20.82 693.07 L19.80 693.52 L18.79 694.43 L18.28 695.78 L18.28 696.69 L18.79 698.04 L19.80 698.95 L20.82 699.40 L22.33 699.40 L23.35 698.95 L24.36 698.04 L24.87 696.69 L24.87 695.78 L24.36 694.43 L23.35 693.52 L22.33 693.07 L20.82 693.07 M28.41 693.07 L28.41 697.59 L28.92 698.95 L29.93 699.40 L31.45 699.40 L32.46 698.95 L33.98 697.59 M33.98 693.07 L33.98 699.40 M43.60 689.91 L43.60 699.40 M43.60 694.43 L42.59 693.52 L41.57 693.07 L40.06 693.07 L39.04 693.52 L38.03 694.43 L37.52 695.78 L37.52 696.69 L38.03 698.04 L39.04 698.95 L40.06 699.40 L41.57 699.40 L42.59 698.95 L43.60 698.04" fill="none" stroke="#000" stroke-width="1.40" stroke-linecap="round" stroke-linejoin="round"/>
<path d="M55.00 689.91 L55.00 699.40 M55.00 694.43 L56.04 693.52 L57.08 693.07 L58.64 693.07 L59.68 693.52 L60.72 694.43 L61.24 695.78 L61.24 696.69 L60.72 698.04 L59.68 698.95 L58.64 699.40 L57.08 699.40 L56.04 698.95 L55.00 698.04 M70.59 693.07 L70.59 699.40 M70.59 694.43 L69.55 693.52 L68.51 693.07 L66.95 693.07 L65.91 693.52 L64.87 694.43 L64.35 695.78 L64.35 696.69 L64.87 698.04 L65.91 698.95 L66.95 699.40 L68.51 699.40 L69.55 698.95 L70.59 698.04 M79.95 694.43 L79.43 693.52 L77.87 693.07 L76.31 693.07 L74.75 693.52 L74.23 694.43 L74.75 695.33 L75.79 695.78 L78.39 696.24 L79.43 696.69 L79.95 697.59 L79.95 698.04 L79.43 698.95 L77.87 699.40 L76.31 699.40 L74.75 698.95 L74.23 698.04 M83.06 695.78 L89.30 695.78 L89.30 694.88 L88.78 693.98 L88.26 693.52 L87.22 693.07 L85.66 693.07 L84.62 693.52 L83.58 694.43 L83.06 695.78 L83.06 696.69 L83.58 698.04 L84.62 698.95 L85.66 699.40 L87.22 699.40 L88.26 698.95 L89.30 698.04" fill="none" stroke="#000" stroke-width="1.40" stroke-linecap="round" stroke-linejoin="round"/>
<path d="M101.30 689.91 L101.30 699.40 M101.30 694.88 L102.82 693.52 L103.83 693.07 L105.34 693.07 L106.36 693.52 L106.86 694.88 L106.86 699.40 M110.40 695.78 L116.47 695.78 L116.47 694.88 L115.96 693.98 L115.46 693.52 L114.45 693.07 L112.93 693.07 L111.92 693.52 L110.91 694.43 L110.40 695.78 L110.40 696.69 L110.91 698.04 L111.92 698.95 L112.93 699.40 L114.45 699.40 L115.46 698.95 L116.47 698.04 M119.50 689.91 L120.01 690.36 L120.51 689.91 L120.01 689.46 L119.50 689.91 M120.01 693.07 L120.01 699.40 M129.61 693.07 L129.61 700.30 L129.11 701.66 L128.60 702.11 L127.59 702.56 L126.08 702.56 L125.06 702.11 M129.61 694.43 L128.60 693.52 L127.59 693.07 L126.08 693.07 L125.06 693.52 L124.05 694.43 L123.55 695.78 L123.55 696.69 L124.05 698.04 L125.06 698.95 L126.08 699.40 L127.59 699.40 L128.60 698.95 L129.61 698.04 M133.66 689.91 L133.66 699.40 M133.66 694.88 L135.18 693.52 L136.19 693.07 L137.70 693.07 L138.72 693.52 L139.22 694.88 L139.22 699.40 M143.77 689.91 L143.77 697.59 L144.28 698.95 L145.29 699.40 L146.30 699.40 M142.26 693.07 L145.79 693.07" fill="none" stroke="#000" stroke-width="1.40" stroke-linecap="round" stroke-linejoin="round"/>
<path d="M6.80 707.40 L5.77 708.30 L4.74 709.66 L3.71 711.47 L3.20 713.73 L3.20 715.54 L3.71 717.80 L4.74 719.60 L5.77 720.96 L6.80 721.86 M13.47 709.21 L12.45 709.21 L11.42 709.66 L10.91 711.02 L10.91 718.70 M9.36 712.37 L12.96 712.37 M16.04 715.08 L22.21 715.08 L22.21 714.18 L21.69 713.28 L21.18 712.82 L20.15 712.37 L18.61 712.37 L17.58 712.82 L16.56 713.73 L16.04 715.08 L16.04 715.99 L16.56 717.34 L17.58 718.25 L18.61 718.70 L20.15 718.70 L21.18 718.25 L22.21 717.34 M25.29 715.08 L31.46 715.08 L31.46 714.18 L30.94 713.28 L30.43 712.82 L29.40 712.37 L27.86 712.37 L26.83 712.82 L25.80 713.73 L25.29 715.08 L25.29 715.99 L25.80 717.34 L26.83 718.25 L27.86 718.70 L29.40 718.70 L30.43 718.25 L31.46 717.34 M35.57 709.21 L35.57 716.89 L36.08 718.25 L37.11 718.70 L38.13 718.70 M34.02 712.37 L37.62 712.37 M40.70 707.40 L41.73 708.30 L42.76 709.66 L43.79 711.47 L44.30 713.73 L44.30 715.54 L43.79 717.80 L42.76 719.60 L41.73 720.96 L40.70 721.86" fill="none" stroke="#000" stroke-width="1.40" stroke-linecap="round" stroke-linejoin="round"/>
<path d="M442.45 665.50 L442.45 674.80 M446.38 668.60 L446.38 674.80 M446.38 670.37 L447.85 669.04 L448.83 668.60 L450.30 668.60 L451.29 669.04 L451.78 670.37 L451.78 674.80 M458.65 665.50 L457.67 665.50 L456.69 665.94 L456.20 667.27 L456.20 674.80 M454.72 668.60 L458.16 668.60 M463.56 668.60 L462.58 669.04 L461.60 669.93 L461.10 671.26 L461.10 672.14 L461.60 673.47 L462.58 674.36 L463.56 674.80 L465.03 674.80 L466.01 674.36 L467.00 673.47 L467.49 672.14 L467.49 671.26 L467.00 669.93 L466.01 669.04 L465.03 668.60 L463.56 668.60 M470.92 668.60 L470.92 677.90 M470.92 669.93 L471.90 669.04 L472.89 668.60 L474.36 668.60 L475.34 669.04 L476.32 669.93 L476.81 671.26 L476.81 672.14 L476.32 673.47 L475.34 674.36 L474.36 674.80 L472.89 674.80 L471.90 674.36 L470.92 673.47 M480.25 665.50 L480.25 674.80 M489.58 668.60 L489.58 674.80 M489.58 669.93 L488.60 669.04 L487.61 668.60 L486.14 668.60 L485.16 669.04 L484.18 669.93 L483.69 671.26 L483.69 672.14 L484.18 673.47 L485.16 674.36 L486.14 674.80 L487.61 674.80 L488.60 674.36 L489.58 673.47 M498.41 668.60 L493.01 674.80 M493.01 668.60 L498.41 668.60 M493.01 674.80 L498.41 674.80 M507.25 668.60 L507.25 674.80 M507.25 669.93 L506.27 669.04 L505.29 668.60 L503.81 668.60 L502.83 669.04 L501.85 669.93 L501.36 671.26 L501.36 672.14 L501.85 673.47 L502.83 674.36 L503.81 674.80 L505.29 674.80 L506.27 674.36 L507.25 673.47" fill="none" stroke="#000" stroke-width="1.50" stroke-linecap="round" stroke-linejoin="round"/>
<path d="M524.95 663.72 L520.45 677.90" fill="none" stroke="#000" stroke-width="1.50" stroke-linecap="round" stroke-linejoin="round"/>
<path d="M540.05 665.50 L542.52 674.80 M544.99 665.50 L542.52 674.80 M544.99 665.50 L547.46 674.80 M549.92 665.50 L547.46 674.80 M552.39 665.50 L552.89 665.94 L553.38 665.50 L552.89 665.05 L552.39 665.50 M552.89 668.60 L552.89 674.80 M556.84 665.50 L556.84 674.80 M563.75 665.50 L562.76 665.50 L561.77 665.94 L561.28 667.27 L561.28 674.80 M559.80 668.60 L563.26 668.60 M566.71 668.60 L566.71 674.80 M566.71 671.26 L567.21 669.93 L568.19 669.04 L569.18 668.60 L570.66 668.60 M572.64 671.26 L578.56 671.26 L578.56 670.37 L578.07 669.48 L577.58 669.04 L576.59 668.60 L575.11 668.60 L574.12 669.04 L573.13 669.93 L572.64 671.26 L572.64 672.14 L573.13 673.47 L574.12 674.36 L575.11 674.80 L576.59 674.80 L577.58 674.36 L578.56 673.47 M587.45 665.50 L587.45 674.80 M587.45 669.93 L586.46 669.04 L585.48 668.60 L583.99 668.60 L583.01 669.04 L582.02 669.93 L581.53 671.26 L581.53 672.14 L582.02 673.47 L583.01 674.36 L583.99 674.80 L585.48 674.80 L586.46 674.36 L587.45 673.47" fill="none" stroke="#000" stroke-width="1.50" stroke-linecap="round" stroke-linejoin="round"/>
<path d="M605.22 665.50 L605.22 672.58 L604.72 673.91 L604.22 674.36 L603.23 674.80 L602.24 674.80 L601.24 674.36 L600.75 673.91 L600.25 672.58 L600.25 671.70 M614.65 668.60 L614.65 674.80 M614.65 669.93 L613.66 669.04 L612.67 668.60 L611.18 668.60 L610.18 669.04 L609.19 669.93 L608.69 671.26 L608.69 672.14 L609.19 673.47 L610.18 674.36 L611.18 674.80 L612.67 674.80 L613.66 674.36 L614.65 673.47 M618.63 668.60 L618.63 674.80 M618.63 670.37 L620.12 669.04 L621.11 668.60 L622.60 668.60 L623.59 669.04 L624.09 670.37 L624.09 674.80 M633.03 669.93 L632.53 669.04 L631.04 668.60 L629.55 668.60 L628.06 669.04 L627.57 669.93 L628.06 670.81 L629.06 671.26 L631.54 671.70 L632.53 672.14 L633.03 673.03 L633.03 673.47 L632.53 674.36 L631.04 674.80 L629.55 674.80 L628.06 674.36 L627.57 673.47 M641.47 669.93 L640.97 669.04 L639.48 668.60 L637.99 668.60 L636.50 669.04 L636.01 669.93 L636.50 670.81 L637.50 671.26 L639.98 671.70 L640.97 672.14 L641.47 673.03 L641.47 673.47 L640.97 674.36 L639.48 674.80 L637.99 674.80 L636.50 674.36 L636.01 673.47 M644.45 671.26 L650.41 671.26 L650.41 670.37 L649.91 669.48 L649.42 669.04 L648.42 668.60 L646.93 668.60 L645.94 669.04 L644.95 669.93 L644.45 671.26 L644.45 672.14 L644.95 673.47 L645.94 674.36 L646.93 674.80 L648.42 674.80 L649.42 674.36 L650.41 673.47 M653.89 668.60 L653.89 674.80 M653.89 670.37 L655.38 669.04 L656.37 668.60 L657.86 668.60 L658.85 669.04 L659.35 670.37 L659.35 674.80" fill="none" stroke="#000" stroke-width="1.50" stroke-linecap="round" stroke-linejoin="round"/>
<rect x="255.00" y="693" width="17.06" height="11.5" fill="#6a0000" stroke="#000" stroke-width="1.5"/>
<rect x="272.06" y="693" width="17.06" height="11.5" fill="#9c0006" stroke="#000" stroke-width="1.5"/>
<rect x="289.12" y="693" width="17.06" height="11.5" fill="#b51014" stroke="#000" stroke-width="1.5"/>
<rect x="306.18" y="693" width="17.06" height="11.5" fill="#cc2125" stroke="#000" stroke-width="1.5"/>
<rect x="323.24" y="693" width="17.06" height="11.5" fill="#e0343a" stroke="#000" stroke-width="1.5"/>
<rect x="340.30" y="693" width="17.06" height="11.5" fill="#f06a4a" stroke="#000" stroke-width="1.5"/>
<rect x="357.36" y="693" width="17.06" height="11.5" fill="#fb9060" stroke="#000" stroke-width="1.5"/>
<rect x="374.42" y="693" width="17.06" height="11.5" fill="#fdbe85" stroke="#000" stroke-width="1.5"/>
<rect x="391.48" y="693" width="17.06" height="11.5" fill="#fdd3a5" stroke="#000" stroke-width="1.5"/>
<rect x="408.54" y="693" width="17.06" height="11.5" fill="#ffffc8" stroke="#000" stroke-width="1.5"/>
<rect x="425.60" y="693" width="17.06" height="11.5" fill="#eef8b0" stroke="#000" stroke-width="1.5"/>
<rect x="442.66" y="693" width="17.06" height="11.5" fill="#c7e9b4" stroke="#000" stroke-width="1.5"/>
<rect x="459.72" y="693" width="17.06" height="11.5" fill="#a1e3a1" stroke="#000" stroke-width="1.5"/>
<rect x="476.78" y="693" width="17.06" height="11.5" fill="#74c476" stroke="#000" stroke-width="1.5"/>
<rect x="493.84" y="693" width="17.06" height="11.5" fill="#3fb5c4" stroke="#000" stroke-width="1.5"/>
<rect x="510.90" y="693" width="17.06" height="11.5" fill="#64a9d8" stroke="#000" stroke-width="1.5"/>
<rect x="527.96" y="693" width="17.06" height="11.5" fill="#4292c6" stroke="#000" stroke-width="1.5"/>
<rect x="545.02" y="693" width="17.06" height="11.5" fill="#2a8cbe" stroke="#000" stroke-width="1.5"/>
<rect x="562.08" y="693" width="17.06" height="11.5" fill="#2468ae" stroke="#000" stroke-width="1.5"/>
<rect x="579.14" y="693" width="17.06" height="11.5" fill="#24389a" stroke="#000" stroke-width="1.5"/>
<rect x="596.20" y="693" width="17.06" height="11.5" fill="#5a2a90" stroke="#000" stroke-width="1.5"/>
<rect x="613.26" y="693" width="17.06" height="11.5" fill="#6f52a5" stroke="#000" stroke-width="1.5"/>
<rect x="630.32" y="693" width="17.06" height="11.5" fill="#8580c0" stroke="#000" stroke-width="1.5"/>
<polygon points="255.0,693 238.5,698.75 255.0,704.5" fill="#fff" stroke="#000" stroke-width="1.5"/>
<polygon points="647.38,693 664,698.75 647.38,704.5" fill="#bcbde0" stroke="#000" stroke-width="1.5"/>
<text x="251.9" y="714.6" textLength="6.1" lengthAdjust="spacingAndGlyphs" class="cb">0</text>
<text x="297.0" y="714.6" textLength="18.3" lengthAdjust="spacingAndGlyphs" class="cb">600</text>
<text x="345.2" y="714.6" textLength="24.4" lengthAdjust="spacingAndGlyphs" class="cb">1500</text>
<text x="396.3" y="714.6" textLength="24.4" lengthAdjust="spacingAndGlyphs" class="cb">3000</text>
<text x="447.5" y="714.6" textLength="24.4" lengthAdjust="spacingAndGlyphs" class="cb">6000</text>
<text x="498.7" y="714.6" textLength="24.4" lengthAdjust="spacingAndGlyphs" class="cb">9000</text>
<text x="546.8" y="714.6" textLength="30.5" lengthAdjust="spacingAndGlyphs" class="cb">20000</text>
<text x="598.0" y="714.6" textLength="30.5" lengthAdjust="spacingAndGlyphs" class="cb">40000</text>
</svg>
</body></html>
